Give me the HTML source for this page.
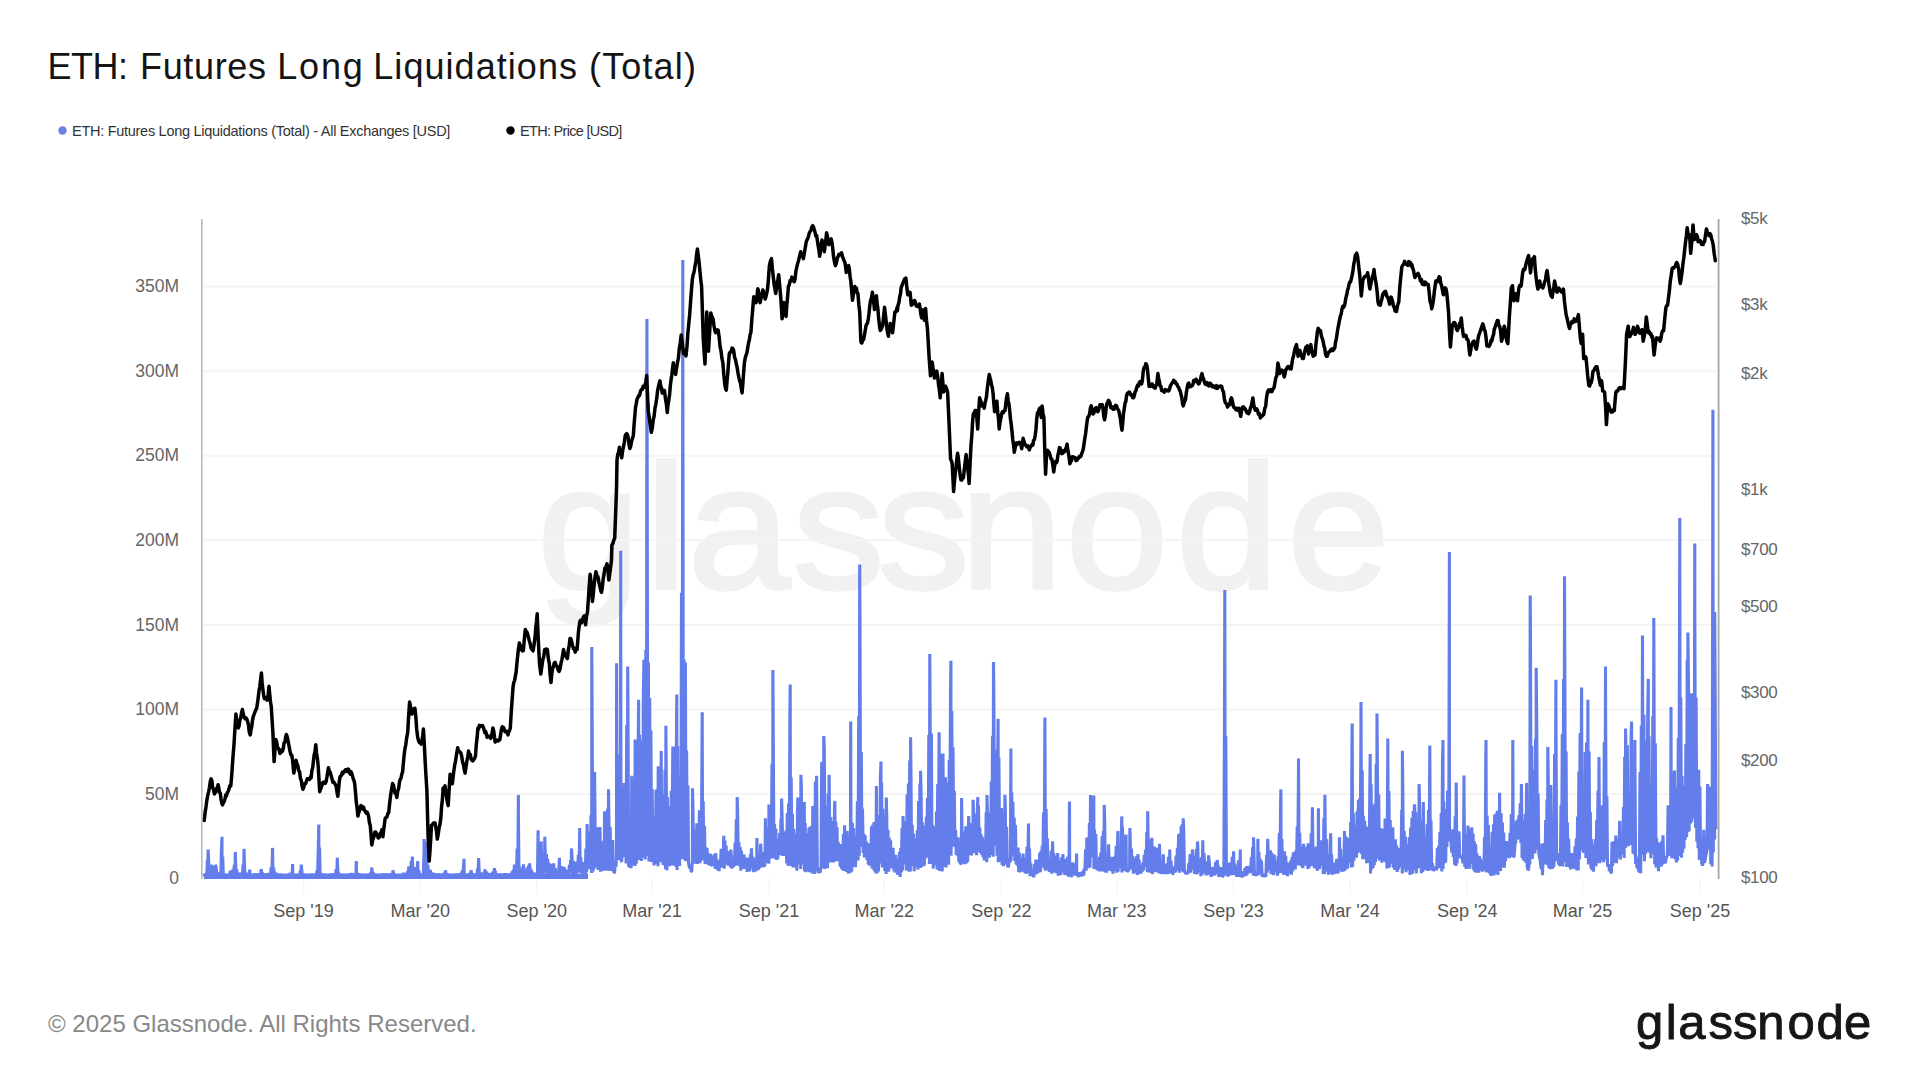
<!DOCTYPE html>
<html><head><meta charset="utf-8"><title>ETH: Futures Long Liquidations (Total)</title>
<style>
html,body{margin:0;padding:0;background:#fff;}
body{width:1920px;height:1080px;position:relative;overflow:hidden;font-family:"Liberation Sans",sans-serif;}
.t{position:absolute;white-space:nowrap;line-height:1;}
.lg{font-size:14.5px;color:#333;top:124px;}
.yl{font-size:17.5px;color:#666;text-align:right;width:80px;left:99px;}
.yr{font-size:17px;color:#666;left:1741px;letter-spacing:-0.35px;}
.xl{font-size:18px;color:#555;top:902px;width:120px;text-align:center;}
.foot{left:48px;top:1012px;font-size:24px;color:#888;}
</style></head><body>
<svg width="1920" height="1080" viewBox="0 0 1920 1080" style="position:absolute;left:0;top:0">
<text transform="scale(1.04,1)" x="516.9 620.6 661.2 762.0 843.7 923.3 1024.8 1130.8 1237.7" y="588" font-family="'Liberation Sans',sans-serif" font-size="177" fill="#f1f1f1" stroke="#f1f1f1" stroke-width="3.5">glassnode</text>
<line x1="203" x2="1716" y1="794.0" y2="794.0" stroke="#f4f4f4" stroke-width="2"/>
<line x1="203" x2="1716" y1="709.4" y2="709.4" stroke="#f4f4f4" stroke-width="2"/>
<line x1="203" x2="1716" y1="624.9" y2="624.9" stroke="#f4f4f4" stroke-width="2"/>
<line x1="203" x2="1716" y1="540.3" y2="540.3" stroke="#f4f4f4" stroke-width="2"/>
<line x1="203" x2="1716" y1="455.8" y2="455.8" stroke="#f4f4f4" stroke-width="2"/>
<line x1="203" x2="1716" y1="371.2" y2="371.2" stroke="#f4f4f4" stroke-width="2"/>
<line x1="203" x2="1716" y1="286.6" y2="286.6" stroke="#f4f4f4" stroke-width="2"/>
<line x1="303.5" x2="303.5" y1="879" y2="894" stroke="#f6f6f6" stroke-width="1.5"/>
<line x1="420.3" x2="420.3" y1="879" y2="894" stroke="#f6f6f6" stroke-width="1.5"/>
<line x1="536.8" x2="536.8" y1="879" y2="894" stroke="#f6f6f6" stroke-width="1.5"/>
<line x1="652" x2="652" y1="879" y2="894" stroke="#f6f6f6" stroke-width="1.5"/>
<line x1="769" x2="769" y1="879" y2="894" stroke="#f6f6f6" stroke-width="1.5"/>
<line x1="884.2" x2="884.2" y1="879" y2="894" stroke="#f6f6f6" stroke-width="1.5"/>
<line x1="1001.4" x2="1001.4" y1="879" y2="894" stroke="#f6f6f6" stroke-width="1.5"/>
<line x1="1116.8" x2="1116.8" y1="879" y2="894" stroke="#f6f6f6" stroke-width="1.5"/>
<line x1="1233.5" x2="1233.5" y1="879" y2="894" stroke="#f6f6f6" stroke-width="1.5"/>
<line x1="1350" x2="1350" y1="879" y2="894" stroke="#f6f6f6" stroke-width="1.5"/>
<line x1="1467.2" x2="1467.2" y1="879" y2="894" stroke="#f6f6f6" stroke-width="1.5"/>
<line x1="1582.5" x2="1582.5" y1="879" y2="894" stroke="#f6f6f6" stroke-width="1.5"/>
<line x1="1700" x2="1700" y1="879" y2="894" stroke="#f6f6f6" stroke-width="1.5"/>
<line x1="204" x2="588" y1="876.3" y2="876.3" stroke="#637dea" stroke-width="5.4"/>
<polyline points="204.2,876.5 204.8,873.8 205.5,877.1 206.1,873.5 206.7,876.8 207.4,859.6 208.0,870.6 208.1,849.6 208.7,861.9 209.3,876.1 209.9,871.7 210.6,875.9 211.2,869.0 211.6,864.6 211.8,876.1 212.5,868.0 213.1,876.4 213.8,866.1 214.4,874.2 215.0,866.0 215.7,877.0 215.7,864.6 216.3,869.0 216.9,876.1 217.6,874.0 218.2,876.6 218.9,873.0 219.5,876.1 220.1,872.3 220.8,876.4 221.4,851.6 222.0,836.8 222.0,872.5 222.7,856.9 223.3,875.0 224.0,874.1 224.6,876.2 225.2,874.4 225.9,876.5 226.5,876.7 227.1,876.9 227.8,876.3 228.4,876.5 229.1,876.7 229.7,875.8 230.3,870.8 231.0,876.7 231.6,871.3 232.2,875.9 232.9,869.5 233.5,876.1 234.2,864.9 234.8,874.7 235.4,851.9 235.4,857.8 236.1,873.2 236.7,869.0 237.3,876.5 238.0,872.5 238.6,877.0 239.3,872.9 239.9,876.6 240.5,873.9 241.2,876.9 241.8,872.5 242.4,875.7 243.1,864.5 243.7,874.6 244.0,848.9 244.3,859.0 245.0,876.7 245.6,872.5 246.3,877.1 246.9,873.1 247.5,876.7 248.2,873.1 248.8,877.0 249.4,871.6 249.8,869.7 250.1,876.8 250.7,876.3 251.4,877.0 252.0,876.5 252.6,876.9 253.3,877.0 253.9,876.5 254.5,873.5 255.2,876.3 255.8,874.3 256.5,876.8 257.1,873.5 257.7,876.6 258.4,873.5 259.0,876.6 259.6,874.4 260.3,876.8 260.9,871.4 261.4,869.2 261.6,876.1 262.2,872.2 262.8,876.2 263.5,873.7 264.1,876.5 264.7,873.8 265.4,876.7 266.0,873.6 266.7,876.6 267.3,874.4 267.9,877.0 268.6,873.1 269.2,876.9 269.8,873.5 270.5,876.8 271.1,867.3 271.8,876.3 272.4,855.3 272.5,847.9 273.0,872.5 273.7,867.5 274.3,876.1 274.9,872.0 275.6,877.0 276.2,873.0 276.9,876.6 277.5,874.3 278.1,876.5 278.8,874.6 279.4,877.0 280.0,873.7 280.7,877.0 281.3,874.2 282.0,876.9 282.6,874.4 283.2,877.0 283.9,874.3 284.5,876.6 285.1,874.6 285.8,876.8 286.4,876.8 287.0,876.8 287.7,876.7 288.3,876.8 289.0,876.6 289.6,876.9 290.2,872.8 290.9,875.5 291.5,876.2 292.1,876.8 292.6,864.1 292.8,875.3 293.4,876.3 294.1,876.9 294.7,876.8 295.3,874.3 296.0,876.6 296.6,874.3 297.2,877.1 297.9,876.7 298.5,876.6 299.2,876.4 299.8,876.5 300.4,870.1 301.1,874.1 301.2,864.6 301.7,868.6 302.3,876.2 303.0,873.9 303.6,876.3 304.3,873.8 304.9,876.4 305.5,874.6 306.2,876.4 306.8,874.6 307.4,876.0 308.1,874.6 308.7,876.8 309.4,874.6 310.0,877.0 310.6,874.1 311.3,876.9 311.9,873.8 312.5,877.0 313.2,874.6 313.8,876.6 314.5,873.8 315.1,876.6 315.7,873.9 316.4,876.0 317.0,870.4 317.6,875.3 318.3,847.0 318.8,824.5 318.9,862.5 319.6,847.6 320.2,876.8 320.8,873.0 321.5,876.8 322.1,873.6 322.7,877.0 323.4,874.1 324.0,876.8 324.6,874.3 325.3,876.2 325.9,876.9 326.6,876.9 327.2,876.8 327.8,876.9 328.5,877.1 329.1,876.5 329.7,874.3 330.4,876.9 331.0,873.5 331.7,876.3 332.3,873.8 332.9,876.6 333.6,874.3 334.2,877.0 334.8,873.2 335.5,876.7 336.1,869.0 336.8,876.5 337.3,857.7 337.4,861.7 338.0,873.4 338.7,872.6 339.3,877.0 339.9,873.9 340.6,876.7 341.2,874.2 341.9,876.8 342.5,874.0 343.1,876.9 343.8,874.2 344.4,876.3 345.0,876.9 345.7,876.7 346.3,876.8 347.0,876.5 347.6,874.1 348.2,876.9 348.9,874.5 349.5,876.3 350.1,873.7 350.8,876.5 351.4,873.0 352.1,876.6 352.7,873.5 353.3,876.8 354.0,876.9 354.6,876.3 355.2,875.9 355.9,876.6 356.3,861.1 356.5,874.6 357.2,876.7 357.8,873.0 358.4,876.5 359.1,874.6 359.7,876.5 360.3,873.7 361.0,876.2 361.6,874.4 362.3,876.8 362.9,874.4 363.5,876.4 364.2,874.2 364.8,876.9 365.4,874.2 366.1,876.4 366.7,874.2 367.3,876.3 368.0,874.2 368.6,876.9 369.3,874.2 369.9,876.2 370.5,872.4 371.2,877.0 371.8,867.4 371.8,867.6 372.4,875.0 373.1,871.9 373.7,877.1 374.4,874.3 375.0,876.8 375.6,873.9 376.3,876.8 376.9,876.5 377.5,876.6 378.2,876.9 378.8,876.6 379.5,876.9 380.1,876.8 380.7,874.4 381.4,876.3 382.0,874.2 382.6,876.4 383.3,873.7 383.9,877.1 384.6,873.4 385.2,876.9 385.8,874.0 386.5,876.9 387.1,873.8 387.7,876.5 388.4,874.3 389.0,876.4 389.7,874.4 390.3,876.5 390.9,873.4 391.6,876.2 392.2,873.2 392.8,875.7 392.9,870.4 393.5,872.8 394.1,875.8 394.8,874.2 395.4,876.9 396.0,874.5 396.7,876.9 397.3,874.4 397.9,876.4 398.6,876.8 399.2,876.8 399.9,877.1 400.5,876.8 401.1,876.7 401.8,876.6 402.4,874.0 403.0,876.7 403.7,872.7 404.3,876.6 404.9,876.8 405.6,876.8 406.2,877.0 406.9,876.4 407.5,871.2 408.1,874.8 408.8,866.4 409.4,876.0 410.0,867.9 410.7,874.2 411.3,861.0 412.0,875.3 412.3,856.5 412.6,864.1 413.2,873.8 413.9,867.5 414.5,876.0 415.1,867.1 415.8,876.6 416.4,868.1 417.1,874.7 417.7,861.1 417.7,864.6 418.3,874.7 419.0,870.7 419.6,876.4 420.2,876.6 420.9,876.6 421.5,876.4 422.2,876.4 422.8,875.5 423.4,873.1 424.1,850.8 424.1,839.1 424.7,871.3 425.3,842.1 426.0,876.9 426.6,855.1 427.3,872.7 427.9,865.1 428.5,876.5 429.2,871.0 429.8,875.4 430.4,869.9 431.1,876.0 431.7,872.4 432.4,876.7 433.0,872.6 433.6,877.0 434.3,874.1 434.9,876.3 435.5,873.6 436.2,876.8 436.8,874.2 437.5,876.4 438.1,874.0 438.7,876.3 439.4,873.7 440.0,876.8 440.6,874.2 441.3,876.4 441.9,873.9 442.6,876.6 443.2,874.5 443.8,876.9 444.5,872.5 445.1,876.9 445.4,870.4 445.7,871.3 446.4,876.0 447.0,873.5 447.6,876.6 448.3,876.8 448.9,877.0 449.6,876.6 450.2,876.7 450.8,874.4 451.5,876.5 452.1,874.3 452.7,876.3 453.4,874.7 454.0,876.7 454.7,874.4 455.3,877.1 455.9,873.8 456.6,876.9 457.2,873.7 457.8,876.5 458.5,873.6 459.1,876.8 459.8,873.7 460.4,876.8 461.0,872.8 461.7,875.6 462.3,870.1 462.9,875.0 463.6,865.5 464.0,858.8 464.2,873.4 464.9,875.8 465.5,876.0 466.1,877.1 466.8,876.5 467.4,874.1 468.0,876.9 468.7,873.7 469.3,876.3 470.0,873.1 470.6,875.4 470.9,870.4 471.2,871.3 471.9,876.9 472.5,873.6 473.1,876.8 473.8,873.7 474.4,876.5 475.1,873.7 475.7,876.6 476.3,874.6 477.0,875.9 477.6,868.1 478.2,874.0 478.6,858.1 478.9,865.8 479.5,874.4 480.2,872.3 480.8,876.1 481.4,873.7 482.1,876.6 482.7,874.4 483.3,876.0 484.0,872.3 484.6,876.5 484.8,869.2 485.2,871.8 485.9,875.5 486.5,871.6 487.2,876.3 487.8,873.0 488.4,876.6 489.1,874.2 489.7,876.4 490.3,873.3 491.0,876.3 491.6,872.9 492.3,875.9 492.9,871.6 493.5,876.7 494.2,870.8 494.5,868.1 494.8,876.8 495.4,871.0 496.1,876.6 496.7,876.8 497.4,877.0 498.0,876.9 498.6,876.6 499.3,873.7 499.9,876.4 500.5,873.8 501.2,876.5 501.8,873.9 502.5,876.2 503.1,874.3 503.7,876.5 504.4,873.5 505.0,876.2 505.6,873.4 506.3,876.9 506.9,874.0 507.6,876.5 508.2,873.9 508.8,876.7 509.5,873.8 510.1,877.0 510.7,874.1 511.4,877.1 512.0,871.4 512.7,876.7 513.3,869.8 513.9,875.8 514.4,864.6 514.6,865.7 515.2,875.8 515.8,866.7 516.5,872.8 517.1,848.6 517.8,870.4 518.4,795.1 518.4,815.6 519.0,873.7 519.7,866.6 520.3,874.0 520.9,874.8 521.6,876.7 522.2,876.5 522.8,875.9 523.5,864.4 524.1,876.1 524.8,871.2 525.4,875.5 526.0,870.1 526.7,876.6 527.3,867.4 527.9,876.8 528.6,865.9 529.2,876.2 529.3,863.4 529.9,866.2 530.5,875.8 531.1,869.2 531.8,875.7 532.4,871.6 533.0,876.7 533.7,872.9 534.3,875.7 535.0,872.8 535.6,876.5 536.2,876.8 536.9,875.6 537.5,872.8 538.1,830.3 538.1,868.5 538.8,846.7 539.4,871.0 540.1,852.7 540.7,874.8 541.3,841.4 541.3,847.7 542.0,868.9 542.6,860.9 543.2,874.7 543.9,859.4 544.5,872.7 544.8,836.8 545.2,852.9 545.8,871.6 546.4,854.1 547.1,873.8 547.7,858.7 548.3,874.4 549.0,863.2 549.6,872.5 550.3,863.8 550.9,876.4 551.5,869.0 552.2,874.4 552.8,868.7 553.4,874.8 553.6,863.4 554.1,868.5 554.7,874.3 555.4,868.1 556.0,876.4 556.6,877.1 557.3,875.6 557.9,876.7 558.5,875.8 559.2,862.0 559.4,857.7 559.8,875.5 560.5,866.0 561.1,875.2 561.7,866.2 562.4,877.0 563.0,867.4 563.6,876.3 564.3,867.2 564.9,874.7 565.5,870.0 566.2,874.8 566.8,869.6 567.5,876.5 568.1,870.9 568.7,875.4 569.4,864.9 570.0,872.5 570.6,860.0 571.3,871.7 571.4,848.4 571.9,854.2 572.6,876.2 573.2,860.5 573.8,873.1 574.5,861.8 575.1,874.0 575.7,863.3 576.4,873.8 577.0,861.6 577.7,871.4 578.3,854.7 578.9,872.8 579.6,839.5 579.7,828.0 580.2,870.4 580.8,857.2 581.5,873.0 582.1,864.1 582.8,876.1 583.4,862.0 584.0,876.8 584.7,865.8 585.3,875.6 585.9,848.5 586.6,872.3 587.1,824.1 587.2,831.3 587.9,868.2 588.5,837.4 589.1,869.1 589.8,831.2 590.4,868.7 591.0,815.3 591.7,872.9 591.8,646.9 592.3,754.0 593.0,871.6 593.6,778.1 594.2,869.0 594.6,772.0 594.9,803.6 595.5,867.2 596.1,827.3 596.8,861.4 597.4,827.4 598.1,869.9 598.7,831.8 599.3,865.7 600.0,827.1 600.6,871.8 601.2,840.8 601.9,866.2 602.5,870.6 603.1,868.5 603.8,869.4 604.4,870.0 604.5,811.3 605.1,827.9 605.7,868.9 606.3,842.5 607.0,870.8 607.6,808.7 608.2,870.7 608.5,789.3 608.9,818.4 609.5,869.8 610.2,826.9 610.8,871.0 611.4,844.0 612.1,863.8 612.7,840.1 613.3,869.7 614.0,872.7 614.6,872.2 615.3,860.8 615.9,867.0 616.5,856.3 616.6,663.2 617.2,854.6 617.8,754.2 618.4,859.6 619.1,858.3 619.7,859.0 620.4,852.4 620.7,550.8 621.0,859.7 621.6,862.0 622.3,852.7 622.9,786.3 623.5,857.1 624.2,783.1 624.8,855.9 625.5,783.0 626.1,863.6 626.7,725.3 627.4,845.7 627.7,666.6 628.0,712.0 628.6,866.1 629.3,866.0 629.9,856.8 630.6,866.6 631.2,867.9 631.8,775.7 632.5,860.8 633.1,788.1 633.7,865.2 634.4,780.8 635.0,865.9 635.1,739.6 635.7,779.3 636.3,863.7 636.9,773.6 637.6,860.3 638.2,746.8 638.6,699.7 638.8,859.7 639.5,734.8 640.1,844.8 640.8,770.4 641.4,861.1 642.0,740.5 642.7,843.6 643.3,700.8 643.9,659.7 643.9,857.4 644.6,711.9 645.2,859.6 645.8,649.7 646.5,855.9 646.9,319.0 647.1,425.2 647.8,842.0 648.4,662.4 649.0,861.5 649.7,698.1 650.3,860.8 650.9,730.4 651.6,862.1 652.2,789.1 652.9,862.2 653.5,815.8 654.1,865.5 654.8,827.4 655.4,863.9 656.0,789.7 656.7,847.5 657.3,788.7 658.0,866.3 658.2,766.2 658.6,778.2 659.2,859.9 659.9,779.5 660.5,862.2 661.1,773.5 661.2,751.1 661.8,861.2 662.4,800.3 663.1,865.1 663.7,794.4 664.3,865.5 665.0,769.6 665.6,869.2 665.9,725.7 666.2,767.8 666.9,870.2 667.5,797.1 668.2,863.3 668.8,819.8 669.4,866.3 670.1,806.6 670.7,859.4 671.3,790.8 672.0,865.4 672.6,776.4 672.8,746.5 673.3,865.6 673.9,770.7 674.5,860.5 675.2,746.6 675.8,866.8 676.4,741.1 676.8,694.4 677.1,869.9 677.7,745.9 678.4,862.6 679.0,775.5 679.6,866.0 680.3,779.8 680.9,850.8 681.5,592.7 682.2,859.0 682.8,260.0 682.8,330.8 683.4,843.8 684.1,659.7 684.7,860.2 685.4,662.4 686.0,861.3 686.6,750.4 687.3,852.2 687.9,785.5 688.5,862.7 689.2,866.8 689.8,868.0 690.5,865.1 691.1,871.6 691.7,871.4 692.4,859.5 692.5,788.2 693.0,812.1 693.6,857.0 694.3,837.2 694.9,863.7 695.6,830.3 696.2,858.1 696.8,823.2 697.5,864.0 698.1,824.3 698.7,860.6 699.4,810.2 700.0,863.2 700.7,810.5 701.3,858.2 701.9,765.5 702.2,712.2 702.6,860.5 703.2,801.3 703.8,857.2 704.5,825.8 705.1,864.1 705.8,847.4 706.4,861.9 707.0,848.0 707.7,863.3 708.3,854.4 708.9,865.3 709.6,853.6 710.2,865.2 710.9,854.2 711.5,866.5 712.1,857.2 712.8,866.2 713.4,855.8 714.0,864.3 714.7,854.4 715.3,868.9 715.7,853.0 716.0,857.3 716.6,867.3 717.2,860.1 717.9,870.4 718.5,861.6 719.1,871.1 719.8,859.6 720.4,867.2 721.1,848.8 721.7,867.4 722.3,849.8 723.0,867.8 723.6,840.6 723.8,835.7 724.2,868.6 724.9,840.4 725.5,864.4 726.1,845.5 726.8,862.4 727.4,851.2 728.1,865.6 728.7,854.2 729.3,864.4 730.0,856.4 730.6,867.4 730.7,849.6 731.2,853.3 731.9,868.7 732.5,858.8 733.2,867.1 733.8,861.5 734.4,866.1 735.1,842.5 735.7,865.7 736.3,819.2 737.0,857.9 737.2,797.0 737.6,810.0 738.3,865.1 738.9,842.0 739.5,866.3 740.2,847.0 740.8,870.7 741.4,850.7 742.1,865.1 742.7,854.2 743.4,869.0 744.0,854.6 744.6,869.0 745.3,859.3 745.9,868.0 746.5,857.7 747.2,872.0 747.8,858.7 748.5,869.4 749.1,857.7 749.7,871.5 750.4,854.2 751.0,867.5 751.5,848.4 751.6,852.7 752.3,868.7 752.9,856.9 753.6,872.2 754.2,858.3 754.8,869.8 755.5,871.0 756.1,869.1 756.7,870.3 756.9,838.0 757.4,869.9 758.0,868.1 758.7,869.4 759.3,852.7 759.9,868.0 760.6,845.2 760.8,843.8 761.2,863.6 761.8,853.3 762.5,867.2 763.1,851.9 763.7,865.6 764.4,866.5 765.0,863.9 765.4,818.3 765.7,861.8 766.3,862.0 766.9,831.9 767.6,853.0 768.2,827.2 768.8,863.7 768.9,804.4 769.5,822.4 770.1,859.0 770.8,821.1 771.4,857.5 772.0,763.7 772.7,858.3 772.9,670.1 773.3,741.0 773.9,854.9 774.6,824.1 775.2,858.7 775.9,828.9 776.5,860.0 777.1,838.9 777.8,859.2 778.4,838.8 779.0,854.1 779.7,833.0 780.3,855.2 781.0,818.6 781.6,852.3 781.6,798.6 782.2,820.8 782.9,856.0 783.5,831.7 784.1,854.2 784.8,832.3 785.4,855.6 786.1,830.2 786.7,863.2 787.3,813.1 788.0,865.8 788.6,803.5 789.2,864.0 789.9,717.7 790.2,684.5 790.5,866.0 791.2,777.4 791.8,856.3 792.4,813.9 793.1,867.6 793.7,829.1 794.3,865.7 795.0,849.1 795.6,867.4 796.3,833.9 796.9,870.8 797.5,813.9 797.9,797.5 798.2,854.1 798.8,821.0 799.4,864.4 800.1,811.2 800.7,868.9 800.9,774.8 801.4,787.7 802.0,864.4 802.6,825.2 803.3,858.3 803.9,808.5 804.3,802.1 804.5,871.2 805.2,823.0 805.8,872.2 806.4,839.2 807.1,869.5 807.7,833.1 808.4,871.2 809.0,827.7 809.6,872.3 810.3,826.3 810.9,870.7 811.5,833.5 812.2,873.4 812.8,805.9 813.5,860.5 814.1,812.0 814.7,874.1 815.4,781.5 816.0,856.4 816.6,775.8 817.3,866.1 817.9,870.8 818.6,873.1 819.2,869.7 819.8,872.6 820.5,871.0 821.1,866.2 821.7,761.8 822.4,868.3 823.0,772.9 823.7,867.4 823.8,736.1 824.3,749.2 824.9,868.9 825.6,806.3 826.2,864.6 826.8,806.0 827.5,868.3 828.1,793.6 828.8,858.7 829.1,774.8 829.4,803.3 830.0,862.6 830.7,817.0 831.3,858.2 831.9,823.1 832.6,862.3 833.2,821.1 833.9,862.5 834.5,806.1 834.9,800.9 835.1,861.0 835.8,821.9 836.4,853.1 837.0,827.2 837.7,861.1 838.3,842.3 839.0,860.8 839.6,844.5 840.2,866.6 840.9,844.1 841.5,868.8 842.1,850.1 842.8,870.1 843.4,834.1 844.0,870.9 844.6,825.2 844.7,839.3 845.3,870.6 846.0,843.1 846.6,871.9 847.2,830.9 847.9,870.6 848.5,873.3 849.1,861.6 849.8,871.8 850.4,871.5 850.7,721.5 851.1,871.5 851.7,870.4 852.3,822.5 853.0,867.1 853.6,828.0 854.2,862.5 854.9,836.4 855.5,867.3 856.2,836.2 856.8,857.9 857.4,801.2 858.1,860.6 858.7,716.3 859.3,855.8 859.7,564.5 860.0,624.3 860.6,847.1 861.3,751.9 861.9,846.2 862.5,808.4 863.2,853.1 863.8,833.8 864.4,857.5 865.1,835.4 865.7,856.4 866.4,841.6 867.0,860.0 867.6,848.1 868.3,864.4 868.9,843.2 869.5,865.7 870.2,844.7 870.8,864.7 871.5,826.4 872.1,868.6 872.7,824.7 873.4,869.5 874.0,822.0 874.6,871.6 875.3,824.4 875.9,873.6 876.4,785.9 876.6,872.3 877.2,872.1 877.8,870.7 878.5,871.3 879.1,815.1 879.7,863.6 880.4,776.0 881.0,761.6 881.0,849.0 881.6,782.5 882.3,867.6 882.9,808.7 883.6,857.2 884.2,818.1 884.8,870.9 885.5,816.2 886.1,874.1 886.3,797.5 886.7,814.7 887.4,869.0 888.0,829.8 888.7,871.7 889.3,837.7 889.9,868.4 890.6,840.3 891.2,868.2 891.8,848.8 892.5,866.8 893.1,847.8 893.8,870.7 894.4,860.1 895.0,872.4 895.7,854.8 896.3,872.7 896.9,860.0 897.6,874.8 898.2,858.1 898.9,875.0 899.5,851.8 900.1,876.9 900.8,848.1 901.4,872.3 902.0,828.2 902.7,870.5 903.0,816.0 903.3,824.5 904.0,864.4 904.6,821.1 905.2,862.2 905.9,827.4 906.5,870.5 907.1,794.6 907.8,859.8 908.4,783.6 909.1,871.8 909.7,760.5 910.3,871.5 910.6,737.3 911.0,775.3 911.6,865.9 912.2,824.7 912.9,866.0 913.5,833.9 914.2,871.1 914.8,838.3 915.4,860.7 916.1,839.8 916.7,867.0 917.3,830.3 918.0,869.6 918.6,801.0 919.3,865.4 919.9,783.6 920.5,868.1 920.6,770.8 921.2,799.6 921.8,866.8 922.4,822.4 923.1,866.6 923.7,827.3 924.3,865.5 925.0,825.8 925.6,858.3 926.3,816.8 926.9,849.1 927.5,798.1 928.2,857.5 928.8,734.9 929.4,863.9 929.8,653.9 930.1,711.4 930.7,863.9 931.4,733.5 932.0,858.5 932.6,825.2 933.3,868.6 933.9,826.2 934.5,855.6 935.2,829.2 935.8,865.2 936.5,811.4 937.1,869.4 937.7,783.9 938.4,869.7 939.0,753.4 939.1,732.2 939.6,871.1 940.3,753.4 940.9,856.3 941.6,765.2 942.2,871.5 942.8,777.8 943.0,753.5 943.5,855.4 944.1,792.8 944.7,866.7 945.4,777.2 946.0,867.6 946.7,782.2 947.3,864.5 947.9,801.2 948.6,864.8 949.2,760.0 949.8,842.1 950.5,693.7 950.9,660.8 951.1,855.8 951.8,711.0 952.4,844.2 953.0,747.3 953.7,846.8 954.3,791.0 954.9,841.2 955.6,830.1 956.2,855.0 956.9,838.4 957.5,855.8 958.1,837.4 958.8,861.8 959.4,860.6 960.0,862.9 960.7,863.3 961.3,864.6 961.6,797.9 961.9,824.4 962.6,863.7 963.2,831.6 963.9,857.9 964.5,834.9 965.1,864.1 965.8,826.4 966.4,863.1 967.0,826.3 967.7,862.0 968.3,831.3 968.7,816.0 969.0,853.9 969.6,822.8 970.2,855.1 970.9,838.6 971.5,855.5 972.1,823.9 972.8,848.3 973.1,799.8 973.4,807.0 974.1,853.3 974.7,819.1 975.3,850.0 976.0,813.8 976.6,855.3 977.2,814.9 977.8,797.0 977.9,848.6 978.5,805.7 979.2,851.8 979.8,827.5 980.4,852.9 981.1,834.2 981.7,854.7 982.3,836.8 983.0,857.1 983.6,839.4 984.3,860.5 984.9,840.6 985.5,859.3 986.2,812.1 986.8,862.2 987.0,795.1 987.4,812.7 988.1,853.0 988.7,831.9 989.4,857.7 990.0,813.1 990.6,854.6 991.3,781.6 991.9,855.1 992.5,735.7 993.2,856.8 993.5,662.0 993.8,687.8 994.5,842.4 995.1,750.1 995.7,845.7 996.4,802.9 997.0,855.8 997.6,766.5 998.1,718.7 998.3,862.3 998.9,757.5 999.6,849.4 1000.2,820.2 1000.8,861.8 1001.5,808.1 1002.1,865.1 1002.7,820.1 1003.4,866.3 1004.0,812.9 1004.6,848.9 1004.9,794.7 1005.3,806.3 1005.9,864.6 1006.6,827.1 1007.2,861.6 1007.8,867.2 1008.5,865.9 1009.1,858.5 1009.7,862.6 1010.4,859.7 1010.9,748.4 1011.0,861.1 1011.7,792.1 1012.3,856.2 1012.9,801.7 1013.6,855.7 1014.2,817.4 1014.8,860.9 1015.5,825.1 1016.1,864.6 1016.8,851.0 1017.4,865.7 1018.0,847.6 1018.7,871.9 1019.3,852.6 1019.9,872.5 1020.6,857.6 1021.2,871.7 1021.9,858.4 1022.5,870.2 1023.1,853.6 1023.8,871.6 1024.4,861.6 1025.0,872.8 1025.7,858.2 1026.3,873.9 1027.0,846.8 1027.6,872.8 1028.2,840.6 1028.5,823.6 1028.9,868.7 1029.5,848.5 1030.1,876.2 1030.8,863.3 1031.4,874.7 1032.1,874.6 1032.7,875.4 1033.3,875.4 1034.0,877.2 1034.6,864.1 1035.2,872.7 1035.9,859.6 1036.5,874.2 1037.2,860.0 1037.8,873.4 1038.4,859.7 1039.1,872.4 1039.7,852.8 1040.3,872.1 1041.0,850.9 1041.6,866.7 1042.2,845.6 1042.9,864.3 1043.5,812.5 1044.2,868.4 1044.8,742.4 1044.9,717.6 1045.4,870.8 1046.1,809.0 1046.7,854.5 1047.3,838.2 1048.0,869.5 1048.6,867.9 1049.3,871.8 1049.9,870.2 1050.5,871.7 1051.2,850.7 1051.8,873.6 1052.4,846.6 1052.6,841.4 1053.1,870.7 1053.7,852.9 1054.4,872.5 1055.0,860.6 1055.6,872.7 1056.3,855.5 1056.9,873.3 1057.5,859.2 1057.7,853.0 1058.2,875.7 1058.8,860.8 1059.5,874.6 1060.1,864.3 1060.7,875.2 1061.4,857.2 1062.0,872.3 1062.6,861.8 1063.0,854.2 1063.3,872.0 1063.9,858.6 1064.6,874.7 1065.2,862.6 1065.8,875.1 1066.5,859.2 1067.1,873.2 1067.7,856.6 1068.4,876.7 1069.0,867.3 1069.5,801.4 1069.7,875.4 1070.3,873.4 1070.9,874.4 1071.6,877.0 1072.2,874.5 1072.8,862.4 1073.5,875.0 1074.1,868.0 1074.8,873.8 1075.4,863.9 1076.0,876.0 1076.6,853.5 1076.7,873.3 1077.3,875.7 1077.9,875.1 1078.6,876.8 1079.2,872.1 1079.9,876.2 1080.5,872.5 1081.1,876.6 1081.8,872.3 1082.4,876.2 1083.0,870.7 1083.7,875.7 1084.3,868.4 1084.9,870.2 1085.6,849.2 1086.2,870.6 1086.9,837.7 1087.5,867.2 1088.1,837.4 1088.8,868.3 1089.4,822.9 1090.0,867.2 1090.5,795.1 1090.7,820.0 1091.3,851.2 1092.0,820.3 1092.6,857.3 1093.2,811.2 1093.8,795.6 1093.9,868.9 1094.5,829.9 1095.1,864.4 1095.8,834.0 1096.4,866.4 1097.1,869.9 1097.7,868.5 1098.3,868.9 1099.0,870.7 1099.6,856.8 1100.2,871.5 1100.9,852.6 1101.5,870.5 1102.2,836.0 1102.8,871.5 1103.4,830.7 1104.1,868.5 1104.2,804.9 1104.7,822.1 1105.3,872.5 1106.0,854.7 1106.6,872.6 1107.3,853.7 1107.9,869.3 1108.5,846.9 1108.6,844.2 1109.2,870.6 1109.8,857.0 1110.4,870.2 1111.1,856.8 1111.7,871.2 1112.4,861.0 1113.0,873.6 1113.6,857.1 1114.3,870.9 1114.9,856.2 1115.5,867.9 1116.2,845.9 1116.8,872.6 1117.5,844.5 1117.9,831.0 1118.1,871.7 1118.7,846.4 1119.4,867.8 1120.0,844.3 1120.6,868.3 1121.3,837.6 1121.8,816.4 1121.9,872.4 1122.5,826.6 1123.2,870.9 1123.8,843.9 1124.5,865.7 1125.1,836.1 1125.7,864.7 1126.0,834.5 1126.4,871.4 1127.0,870.8 1127.6,871.4 1128.3,870.7 1128.9,868.9 1129.6,868.5 1129.9,828.0 1130.2,839.7 1130.8,869.5 1131.5,848.5 1132.1,869.3 1132.7,856.0 1133.4,873.7 1134.0,858.6 1134.7,873.0 1135.3,858.2 1135.9,870.6 1136.6,856.2 1137.2,874.9 1137.8,856.5 1138.0,854.2 1138.5,874.3 1139.1,859.6 1139.8,871.8 1140.4,866.2 1141.0,873.6 1141.7,866.3 1142.3,871.6 1142.9,862.5 1143.6,870.5 1144.2,854.8 1144.9,866.7 1145.5,849.8 1146.1,865.7 1146.8,832.0 1147.4,872.2 1147.7,811.3 1148.0,832.6 1148.7,870.3 1149.3,839.2 1150.0,872.6 1150.6,845.9 1151.2,868.4 1151.9,837.7 1152.5,874.3 1153.1,851.5 1153.8,871.7 1154.4,846.6 1155.1,870.3 1155.7,856.9 1156.3,872.1 1157.0,847.9 1157.6,868.8 1158.2,850.0 1158.9,873.2 1159.5,871.8 1159.5,843.8 1160.1,871.6 1160.8,872.5 1161.4,872.9 1162.1,871.6 1162.7,871.0 1163.3,854.2 1164.0,874.1 1164.6,863.6 1165.2,872.4 1165.9,863.6 1166.5,874.1 1167.2,864.9 1167.8,874.2 1168.4,856.9 1169.1,871.7 1169.7,857.9 1169.7,849.6 1170.3,873.5 1171.0,860.8 1171.6,872.8 1172.3,866.3 1172.9,875.0 1173.5,867.3 1174.2,872.9 1174.8,866.6 1175.4,872.5 1176.1,855.6 1176.7,869.6 1177.4,847.9 1178.0,870.7 1178.6,834.2 1179.3,872.7 1179.9,833.2 1180.5,870.7 1181.2,825.8 1181.8,871.0 1182.5,824.1 1183.1,872.3 1183.2,818.3 1183.7,829.0 1184.4,869.9 1185.0,872.2 1185.6,873.6 1186.3,873.3 1186.9,872.3 1187.6,873.9 1188.2,872.5 1188.8,863.0 1189.5,870.1 1190.1,854.1 1190.7,872.6 1191.4,856.1 1192.0,868.0 1192.4,849.6 1192.7,851.3 1193.3,869.8 1193.9,856.7 1194.6,873.9 1195.2,856.0 1195.8,872.8 1196.5,849.0 1197.1,874.4 1197.5,841.4 1197.8,846.9 1198.4,869.8 1199.0,858.6 1199.7,872.2 1200.3,861.8 1200.9,876.1 1201.6,857.3 1202.2,874.6 1202.8,840.3 1202.8,842.8 1203.5,872.0 1204.1,853.3 1204.8,873.0 1205.4,863.9 1206.0,875.3 1206.7,861.3 1207.3,875.3 1207.9,862.9 1208.6,874.2 1208.6,855.3 1209.2,861.6 1209.9,873.3 1210.5,866.9 1211.1,876.9 1211.8,868.5 1212.4,874.7 1213.0,867.4 1213.7,875.6 1214.3,866.8 1215.0,875.3 1215.6,861.9 1216.2,873.9 1216.9,865.0 1217.4,860.0 1217.5,872.8 1218.1,864.9 1218.8,877.0 1219.4,868.8 1220.1,876.9 1220.7,867.1 1221.3,874.5 1222.0,874.1 1222.6,876.4 1223.2,876.4 1223.9,866.0 1224.5,710.9 1224.8,589.9 1225.2,875.6 1225.8,736.2 1226.4,872.9 1227.1,874.3 1227.7,875.4 1228.3,875.8 1229.0,873.2 1229.6,862.5 1230.3,875.4 1230.9,863.8 1231.5,875.3 1232.2,856.8 1232.8,875.2 1233.4,855.9 1233.6,851.2 1234.1,874.9 1234.7,863.6 1235.4,874.3 1236.0,867.6 1236.6,877.0 1237.3,866.2 1237.9,873.3 1238.5,860.3 1239.2,876.7 1239.8,874.0 1240.3,849.6 1240.4,874.9 1241.1,876.2 1241.7,876.0 1242.4,876.9 1243.0,875.8 1243.6,871.4 1244.3,875.2 1244.9,868.2 1245.5,876.1 1246.2,866.5 1246.8,875.3 1247.5,866.0 1248.1,873.4 1248.7,867.3 1249.4,873.0 1250.0,866.2 1250.6,872.5 1251.3,857.3 1251.9,870.0 1252.6,847.3 1253.2,875.5 1253.5,837.3 1253.8,845.7 1254.5,875.9 1255.1,873.8 1255.7,874.7 1256.4,875.5 1257.0,872.1 1257.7,875.6 1257.9,838.7 1258.3,874.8 1258.9,852.0 1259.6,869.8 1260.2,858.6 1260.8,874.5 1261.5,860.9 1262.1,876.5 1262.8,875.8 1263.4,874.6 1264.0,874.8 1264.7,876.4 1265.3,875.8 1265.9,876.6 1266.6,855.1 1267.2,872.5 1267.7,838.7 1267.9,842.9 1268.5,868.8 1269.1,852.2 1269.8,869.9 1270.4,850.2 1271.0,874.2 1271.7,852.6 1272.3,872.3 1273.0,857.8 1273.6,875.3 1274.2,854.5 1274.9,871.8 1275.5,865.5 1276.1,872.0 1276.8,861.3 1277.4,875.7 1278.1,856.0 1278.7,873.5 1279.3,833.0 1280.0,870.1 1280.6,803.3 1280.9,789.3 1281.2,872.9 1281.9,839.1 1282.5,868.8 1283.1,851.2 1283.8,874.9 1284.4,851.4 1285.1,869.3 1285.7,855.7 1286.3,875.0 1287.0,862.3 1287.6,876.3 1288.2,863.2 1288.9,873.4 1289.5,862.9 1290.2,872.1 1290.8,860.6 1291.4,874.7 1292.1,856.9 1292.7,871.2 1293.3,852.3 1294.0,868.3 1294.6,855.8 1295.3,869.4 1295.9,850.5 1296.5,865.1 1297.2,826.4 1297.8,848.9 1298.4,785.2 1298.5,758.6 1299.1,865.4 1299.7,832.8 1300.4,865.4 1301.0,848.5 1301.6,866.5 1302.3,846.6 1302.9,868.1 1303.5,850.5 1303.6,843.8 1304.2,863.8 1304.8,847.5 1305.5,865.3 1306.1,852.9 1306.7,866.0 1307.4,846.3 1308.0,869.1 1308.2,843.3 1308.6,845.7 1309.3,867.6 1309.9,852.3 1310.6,865.9 1311.2,833.4 1311.8,866.0 1312.4,807.2 1312.5,816.5 1313.1,862.5 1313.7,847.5 1314.4,868.3 1315.0,851.0 1315.7,866.0 1316.3,846.5 1316.9,868.1 1317.6,870.5 1318.2,861.8 1318.4,808.3 1318.8,863.2 1319.5,868.9 1320.1,844.1 1320.7,865.6 1321.4,840.4 1322.0,864.9 1322.7,841.8 1323.3,874.1 1323.9,818.0 1324.6,874.1 1324.9,794.7 1325.2,825.5 1325.8,871.5 1326.5,839.3 1327.1,870.2 1327.8,854.9 1328.4,874.7 1329.0,855.8 1329.7,873.4 1330.3,841.0 1330.7,833.3 1330.9,869.3 1331.6,854.0 1332.2,874.8 1332.9,864.7 1333.5,873.8 1334.1,863.0 1334.8,873.9 1335.4,862.6 1336.0,870.0 1336.7,858.9 1337.3,871.6 1338.0,873.2 1338.6,869.6 1339.2,871.1 1339.5,837.3 1339.9,865.6 1340.5,848.9 1341.1,865.9 1341.8,870.4 1342.4,871.3 1343.1,869.0 1343.7,871.2 1344.3,842.8 1344.5,831.0 1345.0,870.6 1345.6,836.3 1346.2,863.9 1346.9,837.5 1347.5,868.7 1348.2,842.0 1348.8,863.0 1349.4,838.2 1350.1,862.0 1350.7,822.0 1351.3,867.5 1352.0,740.2 1352.2,723.4 1352.6,867.0 1353.3,813.0 1353.9,860.6 1354.5,825.9 1355.2,854.5 1355.8,825.0 1356.4,857.8 1357.1,811.0 1357.7,853.3 1358.4,800.1 1359.0,851.9 1359.6,798.6 1360.3,833.4 1360.9,740.0 1361.0,702.1 1361.5,854.0 1362.2,770.6 1362.8,859.3 1363.4,815.7 1364.1,855.6 1364.7,820.9 1365.4,859.1 1366.0,826.4 1366.6,863.2 1367.3,839.1 1367.9,862.9 1368.5,827.3 1369.2,858.5 1369.8,788.9 1370.2,753.9 1370.5,873.4 1371.1,784.0 1371.7,869.5 1372.4,805.2 1373.0,868.0 1373.6,818.8 1374.3,865.3 1374.9,803.5 1375.6,862.0 1376.2,763.8 1376.8,857.9 1377.0,713.6 1377.5,776.9 1378.1,858.4 1378.7,794.5 1379.4,860.6 1380.0,830.2 1380.7,860.1 1381.3,828.2 1381.9,862.7 1382.6,829.0 1383.2,856.3 1383.8,837.9 1384.5,861.2 1385.1,818.4 1385.8,862.3 1386.4,824.5 1387.0,868.5 1387.7,766.0 1387.8,738.4 1388.3,868.0 1388.9,791.0 1389.6,867.2 1390.2,820.0 1390.9,856.5 1391.5,830.0 1392.1,863.6 1392.8,827.3 1393.4,867.7 1394.0,842.5 1394.7,870.0 1395.3,839.3 1396.0,867.0 1396.6,845.4 1397.2,871.9 1397.9,855.7 1398.5,869.2 1399.1,847.8 1399.8,864.7 1400.4,848.1 1401.0,867.2 1401.7,809.8 1402.3,873.4 1402.4,750.7 1403.0,810.9 1403.6,869.3 1404.2,830.8 1404.9,861.8 1405.5,836.9 1406.1,872.2 1406.8,844.4 1407.4,869.9 1408.1,858.5 1408.7,869.9 1409.3,837.0 1410.0,874.9 1410.6,827.5 1411.2,874.3 1411.9,817.7 1412.5,873.5 1413.2,811.0 1413.8,870.3 1414.4,805.9 1414.7,804.4 1415.1,862.4 1415.7,811.7 1416.3,873.5 1417.0,819.0 1417.6,868.5 1418.3,819.9 1418.9,868.0 1419.1,784.0 1419.5,800.8 1420.2,865.4 1420.8,819.8 1421.4,873.2 1422.1,827.0 1422.7,872.0 1423.3,802.1 1423.4,807.0 1424.0,870.2 1424.6,835.8 1425.3,870.0 1425.9,839.4 1426.5,865.3 1427.2,824.2 1427.8,870.9 1428.5,809.7 1429.1,866.1 1429.7,764.5 1429.8,745.4 1430.4,870.6 1431.0,820.4 1431.6,869.5 1432.3,863.2 1432.9,868.0 1433.6,871.0 1434.2,869.4 1434.8,870.5 1435.5,867.4 1436.1,867.4 1436.7,870.2 1437.4,848.0 1438.0,865.9 1438.7,845.8 1439.3,868.3 1439.9,832.0 1440.6,867.1 1441.2,813.2 1441.8,871.4 1442.5,761.5 1443.0,740.0 1443.1,869.1 1443.7,801.4 1444.4,863.3 1445.0,821.3 1445.7,862.5 1446.3,809.1 1446.9,847.1 1447.6,790.5 1448.2,837.7 1448.8,838.5 1449.4,552.0 1449.5,837.9 1450.1,840.9 1450.8,840.6 1451.4,848.2 1452.0,852.8 1452.7,829.4 1453.3,856.9 1453.9,843.0 1454.6,864.6 1455.2,816.3 1455.9,865.9 1456.2,782.4 1456.5,820.1 1457.1,863.4 1457.8,835.0 1458.4,857.9 1459.0,831.2 1459.7,853.4 1460.3,857.3 1461.0,857.3 1461.6,857.7 1462.2,856.1 1462.9,863.4 1463.5,855.9 1464.0,775.5 1464.1,807.2 1464.8,867.0 1465.4,834.7 1466.1,868.9 1466.7,833.2 1467.3,868.9 1468.0,825.4 1468.6,864.6 1469.2,828.6 1469.9,868.6 1470.5,834.0 1471.2,863.9 1471.8,827.2 1472.4,864.2 1473.1,833.6 1473.7,870.1 1474.3,841.2 1475.0,872.0 1475.6,844.0 1476.3,872.8 1476.9,853.2 1477.5,869.3 1478.2,855.8 1478.8,872.8 1479.4,855.7 1480.1,870.2 1480.7,858.5 1481.3,870.7 1482.0,861.2 1482.6,871.6 1483.3,861.5 1483.9,869.6 1484.5,837.2 1485.2,870.4 1485.8,757.6 1486.0,740.0 1486.4,872.5 1487.1,815.5 1487.7,867.9 1488.4,825.1 1489.0,870.7 1489.6,873.1 1490.3,871.6 1490.9,875.8 1491.5,869.7 1492.2,831.7 1492.8,872.7 1493.5,824.2 1494.1,875.5 1494.7,814.4 1495.4,873.4 1496.0,813.4 1496.6,866.1 1497.3,810.8 1497.9,874.9 1498.6,813.0 1499.2,869.9 1499.6,792.8 1499.8,819.4 1500.5,870.9 1501.1,813.3 1501.7,860.3 1502.4,822.4 1503.0,867.5 1503.7,832.6 1504.3,867.6 1504.9,848.2 1505.6,861.4 1506.2,841.1 1506.8,857.5 1507.5,841.1 1508.1,856.4 1508.8,841.7 1509.4,858.1 1510.0,832.7 1510.7,855.9 1511.3,814.1 1511.9,855.6 1512.6,855.7 1512.8,740.0 1513.2,853.4 1513.9,857.5 1514.5,851.5 1515.1,843.0 1515.8,842.7 1516.4,820.7 1517.0,839.0 1517.7,819.5 1518.3,839.5 1518.9,815.2 1519.6,836.0 1520.2,803.3 1520.9,843.0 1521.4,784.0 1521.5,788.3 1522.1,858.1 1522.8,819.4 1523.4,860.3 1524.0,821.6 1524.7,861.3 1525.3,813.8 1526.0,862.7 1526.6,782.9 1527.2,866.9 1527.9,869.9 1528.5,869.5 1529.1,864.1 1529.8,863.7 1530.2,595.6 1530.4,623.0 1531.1,854.0 1531.7,746.1 1532.3,859.0 1533.0,792.7 1533.6,852.7 1534.2,769.5 1534.9,853.4 1535.5,738.8 1536.2,846.9 1536.2,667.8 1536.8,732.0 1537.4,849.8 1538.1,793.5 1538.7,850.8 1539.3,857.0 1540.0,858.8 1540.6,864.4 1541.3,869.4 1541.9,843.5 1542.5,875.2 1543.2,848.7 1543.8,864.8 1544.4,843.0 1545.1,862.2 1545.7,820.1 1546.4,864.2 1547.0,799.4 1547.6,865.2 1547.8,747.0 1548.3,779.9 1548.9,868.0 1549.5,788.1 1550.2,869.3 1550.8,784.9 1551.5,860.8 1552.1,868.7 1552.7,866.2 1553.4,867.1 1554.0,865.3 1554.6,754.1 1555.3,856.2 1555.9,679.8 1555.9,704.3 1556.6,861.1 1557.2,859.0 1557.8,853.2 1558.5,863.3 1559.1,864.7 1559.7,864.1 1560.4,866.0 1561.0,805.1 1561.6,865.3 1562.3,734.0 1562.9,866.4 1563.6,679.0 1564.2,861.9 1564.5,576.3 1564.8,658.4 1565.5,857.2 1566.1,751.5 1566.7,867.0 1567.4,822.4 1568.0,865.3 1568.7,838.8 1569.3,867.2 1569.9,853.1 1570.6,869.5 1571.2,853.0 1571.8,867.8 1572.5,853.6 1573.1,868.8 1573.8,853.4 1574.4,866.0 1575.0,846.5 1575.7,868.9 1576.3,838.3 1576.9,870.5 1577.6,816.4 1578.2,870.5 1578.9,771.6 1579.5,859.2 1580.1,733.1 1580.8,846.7 1581.4,724.6 1581.6,687.5 1582.0,847.8 1582.7,849.2 1583.3,851.4 1584.0,852.3 1584.6,849.2 1585.2,751.9 1585.9,857.9 1586.5,742.5 1587.1,857.1 1587.8,747.2 1587.9,699.7 1588.4,864.4 1589.1,751.4 1589.7,862.1 1590.3,812.0 1591.0,868.8 1591.6,839.4 1592.2,870.1 1592.9,844.6 1593.5,871.8 1594.2,847.5 1594.8,864.2 1595.4,839.1 1596.1,866.2 1596.7,820.3 1597.3,859.5 1598.0,790.8 1598.6,862.7 1599.0,756.9 1599.2,791.6 1599.9,863.3 1600.5,810.1 1601.2,860.4 1601.8,805.5 1602.4,860.5 1603.1,816.3 1603.7,862.3 1604.3,741.9 1605.0,856.4 1605.5,666.6 1605.6,709.9 1606.3,859.2 1606.9,796.2 1607.5,866.6 1608.2,865.1 1608.8,864.4 1609.4,871.2 1610.1,869.2 1610.7,871.2 1611.4,873.5 1612.0,842.1 1612.6,866.0 1613.3,841.3 1613.9,862.8 1614.5,845.5 1615.2,859.7 1615.8,835.6 1616.5,863.2 1617.1,839.8 1617.7,857.8 1618.4,838.9 1619.0,857.6 1619.6,822.4 1619.8,821.1 1620.3,859.6 1620.9,834.8 1621.6,854.1 1622.2,833.5 1622.8,854.2 1623.5,807.1 1624.1,857.9 1624.7,756.7 1625.4,848.0 1625.6,728.5 1626.0,755.0 1626.7,845.5 1627.3,745.3 1627.9,845.0 1628.6,845.2 1629.2,842.3 1629.8,837.6 1630.5,840.4 1631.1,735.0 1631.6,721.5 1631.8,844.9 1632.4,770.9 1633.0,853.4 1633.7,763.8 1634.3,854.5 1634.9,740.0 1634.9,758.3 1635.6,864.0 1636.2,856.5 1636.9,867.4 1637.5,867.5 1638.1,868.3 1638.8,870.6 1639.4,872.2 1640.0,772.1 1640.7,873.3 1641.3,725.8 1641.9,855.1 1642.5,635.4 1642.6,692.9 1643.2,851.6 1643.9,714.8 1644.5,861.2 1645.1,740.6 1645.8,853.8 1646.4,760.4 1647.0,842.3 1647.7,713.6 1648.3,678.9 1648.3,851.8 1649.0,735.9 1649.6,852.6 1650.2,786.7 1650.9,858.3 1651.5,787.5 1652.1,854.2 1652.8,716.1 1653.4,850.2 1653.8,618.0 1654.1,711.0 1654.7,864.3 1655.3,743.3 1656.0,867.5 1656.6,838.3 1657.2,863.3 1657.9,845.4 1658.5,871.1 1659.2,842.6 1659.8,866.8 1660.4,842.6 1661.1,866.6 1661.7,841.2 1662.3,864.6 1663.0,835.4 1663.6,858.4 1664.3,863.7 1664.9,856.6 1665.5,863.2 1666.2,857.1 1666.8,856.4 1667.4,855.8 1668.1,805.2 1668.7,851.1 1669.4,854.5 1670.0,852.8 1670.6,855.7 1671.0,707.1 1671.3,845.8 1671.9,858.1 1672.5,847.8 1673.2,773.1 1673.8,855.7 1674.5,770.4 1675.1,859.3 1675.7,787.4 1676.4,862.5 1677.0,799.3 1677.6,860.4 1678.3,737.7 1678.9,854.4 1679.5,631.6 1679.8,518.0 1680.2,856.0 1680.8,697.3 1681.5,857.7 1682.1,776.1 1682.7,852.5 1683.4,805.5 1684.0,848.4 1684.6,785.2 1685.3,839.7 1685.9,743.9 1686.6,837.1 1687.2,659.6 1687.8,832.3 1687.9,632.6 1688.5,686.3 1689.1,831.2 1689.7,716.9 1690.4,823.8 1691.0,693.2 1691.7,822.1 1692.3,718.1 1692.9,816.8 1693.6,693.4 1694.2,818.6 1694.8,543.5 1694.8,602.1 1695.5,827.8 1696.1,697.4 1696.8,841.8 1697.4,770.7 1698.0,848.2 1698.7,769.7 1699.3,860.1 1699.9,786.5 1700.6,856.5 1701.2,856.0 1701.9,863.8 1702.5,865.6 1703.1,863.0 1703.8,829.9 1704.4,862.5 1705.0,860.1 1705.7,856.5 1706.3,853.4 1707.0,850.4 1707.6,784.0 1708.2,835.0 1708.9,801.0 1709.5,849.5 1710.1,786.6 1710.8,864.2 1711.4,795.4 1712.1,866.5 1712.7,561.9 1712.9,409.7 1713.3,852.6 1714.0,655.2 1714.6,839.6 1714.7,612.0 1715.2,697.7 1715.9,829.2" fill="none" stroke="#637dea" stroke-width="3.1" stroke-linejoin="bevel"/>
<polyline points="204.2,820.6 205.1,812.6 206.0,806.9 206.9,799.8 207.8,795.1 208.6,791.8 209.4,787.8 210.3,781.4 211.1,778.9 211.9,780.7 212.7,787.8 213.5,789.3 214.4,794.0 215.1,791.1 215.8,792.3 216.6,788.3 217.3,787.9 218.1,784.7 218.8,788.0 219.5,792.0 220.3,793.4 221.0,798.7 221.7,803.0 222.5,804.9 223.3,802.9 224.1,801.8 224.9,799.5 225.7,795.1 226.5,795.9 227.3,792.8 228.2,791.4 229.1,788.6 229.9,785.7 230.8,785.9 231.6,776.9 232.4,765.0 233.2,754.1 234.0,744.3 234.7,732.6 235.9,714.1 236.7,720.2 237.4,724.2 238.2,728.0 239.0,726.0 239.9,720.2 240.7,718.1 241.5,712.9 242.4,709.5 243.3,714.3 244.2,717.2 245.2,718.7 245.9,717.9 246.7,718.8 247.5,721.0 248.4,724.5 249.3,732.2 250.2,734.9 251.0,730.0 251.8,726.2 252.5,720.2 253.3,716.4 254.1,714.4 255.0,711.9 255.9,709.7 256.7,708.3 257.5,702.9 258.3,697.1 259.0,690.9 259.8,686.5 260.6,679.6 261.4,672.9 262.1,682.2 262.9,689.4 263.7,695.6 264.5,698.7 265.4,698.6 266.3,697.7 267.1,700.2 268.1,694.7 269.0,686.3 269.8,695.1 270.5,701.8 271.3,707.1 272.1,720.2 272.9,732.6 274.1,761.6 274.9,751.4 275.7,739.6 276.5,741.2 277.4,746.4 278.2,748.2 279.1,749.8 279.9,753.5 280.8,750.3 281.6,752.0 282.5,751.1 283.4,747.7 284.1,742.7 284.9,742.3 285.6,737.4 286.4,734.5 287.3,737.1 288.2,741.7 289.1,746.5 290.0,751.1 290.9,754.9 291.8,755.1 292.6,760.4 293.8,773.1 294.5,769.4 295.3,762.8 296.1,760.4 297.0,764.2 297.8,765.5 298.7,770.6 299.6,772.0 300.4,778.2 301.3,780.7 302.2,787.0 303.0,789.3 303.9,786.6 304.8,783.6 305.6,783.7 306.5,781.2 307.3,778.8 308.1,778.9 308.8,779.1 309.6,779.4 310.4,777.0 311.1,777.8 311.9,770.2 312.7,767.7 313.5,760.4 314.2,754.4 315.0,751.7 315.8,744.7 316.5,753.0 317.3,757.8 318.1,765.0 318.9,778.2 319.7,791.7 320.5,789.4 321.2,787.6 322.0,785.1 322.7,782.4 323.6,782.3 324.5,782.3 325.3,783.3 326.2,781.2 327.0,776.8 327.7,772.0 328.5,767.8 329.4,771.5 330.2,772.3 331.1,775.4 332.0,778.9 332.9,782.3 333.7,781.9 334.6,783.5 335.5,784.7 336.2,786.6 337.0,792.1 337.8,796.3 338.5,790.1 339.3,781.3 340.1,776.6 340.8,776.2 341.5,775.4 342.3,772.2 343.0,773.6 343.7,772.1 344.4,772.1 345.2,769.9 345.9,769.7 346.6,770.9 347.3,771.5 348.0,769.1 348.8,769.6 349.5,772.5 350.2,774.1 350.9,771.7 351.7,773.1 352.4,775.6 353.2,778.7 353.9,780.2 354.7,783.6 355.5,792.3 356.3,802.1 357.1,808.3 357.9,816.0 358.7,812.8 359.4,811.1 360.2,807.4 360.9,805.6 361.8,806.2 362.7,809.0 363.5,807.1 364.4,810.2 365.3,811.3 366.1,812.9 367.0,812.0 367.9,813.7 368.6,816.4 369.4,822.6 370.2,825.2 371.0,834.0 371.8,844.9 372.6,840.5 373.3,838.3 374.1,836.2 374.8,832.2 375.7,832.0 376.6,834.4 377.4,835.9 378.3,838.0 379.2,837.3 380.0,833.7 380.9,833.3 381.8,829.9 382.9,836.8 383.7,829.3 384.5,823.8 385.2,818.3 386.1,817.4 387.0,816.9 387.8,813.8 388.7,812.5 389.5,804.8 390.3,797.9 391.0,792.8 391.8,788.3 392.6,783.6 393.5,785.1 394.3,790.3 395.1,793.2 396.0,793.4 396.8,797.5 397.7,791.2 398.7,787.9 399.6,781.2 400.3,779.5 401.1,777.8 401.9,773.7 402.6,772.0 403.4,762.8 404.1,755.7 404.9,748.8 405.8,744.6 406.8,737.1 407.7,732.6 408.6,716.7 409.6,702.1 410.3,705.7 411.1,709.8 411.9,714.1 412.6,712.3 413.4,712.9 414.1,708.4 414.9,708.3 415.8,716.0 416.7,729.4 417.7,737.3 418.5,740.5 419.4,742.7 420.3,742.2 421.1,744.2 421.9,741.0 422.7,735.9 423.4,729.1 424.3,743.7 425.1,760.4 426.0,776.4 426.9,790.5 428.1,836.8 429.2,861.1 430.0,850.5 430.8,837.9 431.5,825.2 432.4,824.7 433.3,823.2 434.2,822.9 435.0,822.9 435.8,827.2 436.6,832.0 437.3,839.1 438.2,834.3 439.1,827.9 439.9,824.7 440.8,818.3 441.6,806.4 442.4,799.8 443.1,788.2 444.1,787.8 445.0,785.9 445.8,792.5 446.6,797.3 447.4,802.2 448.2,805.6 449.1,790.2 450.1,774.3 450.8,775.4 451.6,781.5 452.4,783.6 453.2,776.1 453.9,770.4 454.7,765.0 455.5,761.3 456.2,756.5 457.0,751.7 457.7,747.7 458.5,751.0 459.3,751.4 460.1,751.9 460.9,753.2 461.6,755.8 462.5,761.6 463.4,764.4 464.3,769.9 465.1,773.1 466.0,767.0 466.9,760.9 467.7,756.8 468.6,751.1 469.5,754.7 470.3,754.5 471.2,759.3 472.1,760.4 472.9,760.9 473.8,759.3 474.7,758.2 475.5,755.8 476.3,744.5 477.1,737.8 477.9,728.0 478.6,729.1 479.4,725.4 480.2,725.9 480.9,725.5 481.7,726.2 482.5,725.7 483.3,727.3 484.0,729.4 484.8,732.6 485.6,731.4 486.3,733.5 487.1,737.3 488.0,736.0 488.9,736.3 489.7,736.4 490.6,738.4 491.4,736.8 492.1,732.9 492.9,728.0 493.7,731.0 494.5,737.3 495.2,741.9 496.0,740.8 496.8,740.4 497.5,740.1 498.3,740.9 499.1,740.3 499.9,739.6 500.6,734.8 501.4,729.8 502.2,726.8 502.9,727.2 503.6,727.4 504.3,730.1 505.1,731.7 505.8,731.4 506.5,731.2 507.2,732.6 508.0,734.9 508.7,732.1 509.5,730.7 510.3,728.0 511.4,709.5 512.2,699.0 513.1,686.3 513.8,682.4 514.6,680.6 515.3,676.4 516.1,672.4 516.8,664.4 517.6,656.5 518.4,649.3 519.4,643.0 520.4,646.2 521.4,649.5 522.4,650.9 523.3,650.8 524.3,639.7 525.3,629.4 526.3,631.8 527.2,632.6 528.2,636.3 529.2,640.4 530.1,643.3 531.1,648.2 532.1,649.6 533.1,650.8 534.0,645.1 535.0,637.8 535.7,628.1 536.5,621.5 537.2,613.8 538.2,637.8 539.5,663.7 540.8,674.1 541.8,666.7 542.8,659.8 543.8,656.2 544.7,649.5 545.6,651.2 546.5,649.0 547.3,649.5 548.3,658.2 549.3,663.7 550.1,674.3 551.0,682.5 551.7,674.8 552.5,668.9 553.4,666.6 554.2,663.1 555.1,662.4 556.1,665.6 557.1,666.3 558.0,669.6 559.0,671.5 560.0,669.2 560.9,663.7 561.8,660.1 562.7,654.9 563.5,649.5 564.5,653.6 565.5,655.9 566.5,657.5 567.4,658.5 568.3,650.3 569.2,645.5 570.0,638.4 570.9,638.8 571.7,641.8 572.6,645.6 573.5,648.8 574.3,648.1 575.2,652.1 576.2,649.1 577.1,649.5 578.4,632.6 579.7,622.2 580.6,620.2 581.5,622.9 582.3,620.9 583.3,617.1 584.3,615.8 585.6,624.8 586.5,616.4 587.5,611.9 588.8,592.4 590.1,574.3 591.4,585.9 592.4,601.5 593.2,595.1 594.0,585.9 595.0,577.3 595.9,571.7 596.9,575.6 597.9,576.9 598.9,582.1 599.8,585.9 600.7,590.5 601.5,592.4 602.3,587.7 603.1,579.4 604.1,573.9 605.0,567.8 606.0,567.0 607.0,563.9 607.9,570.1 608.9,580.1 610.2,570.4 611.5,560.0 611.9,545.0 612.8,543.8 613.7,540.5 614.7,538.1 615.6,514.6 616.5,489.5 617.0,460.1 617.8,454.3 618.6,452.6 619.4,447.3 620.1,452.5 620.9,452.5 621.7,457.8 622.5,451.6 623.4,447.0 624.3,442.6 625.2,435.8 625.9,434.3 626.7,433.7 627.5,434.6 628.2,438.2 629.0,444.3 629.8,448.5 630.7,446.3 631.5,441.7 632.4,438.4 633.3,435.8 634.0,425.7 634.8,415.9 635.6,406.8 636.3,403.4 637.1,399.0 637.9,397.6 638.8,395.5 639.6,395.4 640.5,391.1 641.4,389.5 642.2,389.6 643.1,386.4 644.0,387.6 644.8,386.0 645.8,381.8 646.7,375.6 647.5,394.2 648.3,411.4 649.1,416.7 649.8,421.8 650.6,427.6 651.3,432.3 652.2,428.5 653.2,420.1 654.1,416.1 655.0,408.1 655.8,404.3 656.7,398.6 657.6,390.6 658.3,387.4 659.1,383.9 659.9,380.9 660.7,385.8 661.4,387.7 662.2,392.9 663.0,391.2 663.7,390.2 664.5,390.6 665.4,398.3 666.4,404.5 667.3,412.6 668.0,404.9 668.8,400.1 669.6,394.4 670.3,386.0 671.1,379.4 671.8,375.2 672.6,368.3 673.3,362.8 674.1,368.1 674.9,370.9 675.6,374.4 676.6,368.1 677.5,362.5 678.4,358.2 679.3,348.6 680.3,342.7 681.2,335.0 682.0,340.7 682.7,346.1 683.5,353.6 684.4,353.8 685.2,354.4 686.0,355.9 687.0,346.2 687.9,332.8 688.8,323.5 689.7,314.4 690.6,301.4 691.4,290.9 692.3,279.5 693.2,274.7 694.2,271.5 695.1,265.6 695.9,261.3 696.6,254.7 697.4,248.9 698.3,256.0 699.2,263.3 700.0,271.9 700.8,280.1 701.6,286.4 702.4,311.5 703.2,337.4 704.1,351.6 705.0,364.0 705.8,339.8 706.7,311.9 707.6,331.4 708.5,351.2 709.3,337.4 710.1,324.7 710.8,313.0 711.6,315.8 712.4,317.6 713.1,318.8 713.9,325.3 714.7,329.5 715.5,332.7 716.4,330.9 717.3,329.9 718.2,330.4 719.2,337.5 720.1,346.6 721.0,350.8 721.9,358.2 722.9,362.8 723.8,374.7 724.7,383.7 725.5,388.5 726.3,390.1 727.1,380.0 727.8,373.3 728.6,362.0 729.3,353.6 730.2,352.0 731.1,351.9 732.0,348.1 732.8,348.5 733.7,350.7 734.6,357.6 735.4,359.3 736.3,364.0 737.2,367.7 738.0,373.0 738.9,377.7 739.8,381.3 740.5,383.2 741.3,388.4 742.1,392.9 742.9,382.6 743.6,372.8 744.4,362.8 745.3,357.6 746.1,355.1 747.0,352.5 747.9,346.6 748.6,342.7 749.4,339.8 750.1,334.7 750.9,332.7 751.8,319.9 752.7,309.5 753.7,296.8 754.4,297.2 755.2,302.2 756.0,302.6 756.9,297.3 757.8,288.7 758.6,291.7 759.4,299.8 760.1,302.6 761.1,297.9 762.0,295.2 762.9,289.9 763.7,294.0 764.5,295.2 765.2,299.1 766.0,296.4 766.8,292.8 767.6,288.7 768.5,278.4 769.4,265.6 770.4,261.2 771.5,258.6 772.4,268.9 773.3,277.1 774.1,284.4 774.9,288.6 775.7,293.4 776.4,288.9 777.2,282.5 777.9,279.4 778.7,274.8 779.7,285.8 780.8,298.0 782.1,318.8 783.0,311.6 783.8,302.6 784.5,308.0 785.3,312.1 786.1,316.5 786.8,305.2 787.6,297.0 788.4,286.4 789.3,284.6 790.1,280.5 791.0,281.0 791.9,277.1 792.6,279.3 793.4,278.7 794.2,281.8 795.1,278.9 795.9,271.1 796.8,267.2 797.7,263.3 798.4,261.2 799.2,257.9 799.9,254.8 800.7,251.7 801.6,254.6 802.5,256.1 803.4,258.6 804.3,253.2 805.2,248.1 806.0,243.0 806.9,240.1 807.7,238.6 808.5,236.5 809.2,233.2 810.1,231.5 811.0,230.4 811.8,227.0 812.7,225.7 813.5,226.9 814.2,229.4 815.0,232.0 815.8,236.2 816.6,235.6 817.3,240.1 818.1,245.5 818.9,249.9 819.7,256.3 820.4,252.0 821.2,244.9 822.0,240.1 822.7,243.3 823.5,247.4 824.3,251.7 825.1,245.5 825.8,240.1 826.6,232.7 827.4,236.1 828.1,242.1 828.9,244.7 829.7,241.3 830.5,240.0 831.2,238.9 832.0,243.1 832.8,249.0 833.5,256.3 834.5,262.1 835.4,265.6 836.3,263.4 837.3,258.1 838.2,256.3 839.0,254.2 839.9,254.2 840.8,254.7 841.6,252.8 842.5,256.7 843.4,259.0 844.3,261.0 845.1,263.3 846.3,272.5 847.1,268.8 847.8,267.5 848.6,265.6 849.4,269.7 850.1,276.5 850.9,281.8 851.7,291.3 852.5,300.3 853.3,294.5 854.1,290.0 854.8,286.4 855.6,289.3 856.4,288.0 857.1,292.8 857.9,293.4 858.8,304.2 859.7,311.9 860.9,342.0 861.8,343.0 862.7,340.0 863.6,339.7 864.4,335.2 865.2,330.7 866.0,325.8 866.7,324.0 867.5,323.1 868.3,318.8 869.0,313.4 869.8,305.7 870.6,300.3 871.5,297.7 872.4,292.2 873.5,300.8 874.5,309.6 875.5,303.0 876.4,295.7 877.2,304.3 877.9,309.1 878.7,318.8 879.5,325.7 880.3,330.4 881.1,329.5 881.9,327.3 882.6,325.8 883.6,316.6 884.5,307.3 885.3,314.0 886.0,319.9 886.8,328.1 887.6,332.3 888.4,336.2 889.3,328.0 890.3,323.5 891.0,326.5 891.8,330.2 892.6,332.7 893.4,325.6 894.1,319.1 894.9,311.9 895.7,312.2 896.4,310.4 897.2,307.3 897.4,310.9 898.1,304.9 898.9,302.8 899.7,297.0 900.5,293.7 901.2,287.5 902.0,285.5 902.8,283.4 903.6,281.4 904.4,279.3 905.1,279.7 905.9,278.1 906.9,288.1 907.8,294.7 908.6,293.3 909.3,294.7 910.1,292.4 911.3,305.2 912.1,304.8 913.0,301.4 913.9,303.1 914.7,300.5 915.5,302.9 916.3,306.1 917.0,306.3 917.8,306.4 918.6,305.7 919.4,304.0 920.1,308.0 920.9,314.5 921.7,317.9 922.8,309.8 923.6,316.7 924.5,320.2 925.6,308.6 926.5,320.5 927.5,329.5 928.3,343.1 929.1,357.3 930.5,375.8 931.3,369.9 932.1,361.9 932.9,367.2 933.6,371.1 934.4,378.1 935.2,373.9 936.0,371.8 936.7,371.1 937.7,376.9 938.6,385.0 939.4,390.0 940.2,397.8 941.1,385.6 942.1,373.5 942.9,383.5 943.7,392.0 944.6,389.2 945.5,386.2 946.6,388.8 947.6,392.0 949.0,422.1 949.8,441.2 950.6,459.1 951.4,460.7 952.2,463.8 953.6,491.5 954.4,482.1 955.3,473.0 956.0,467.5 956.8,459.5 957.6,453.3 958.5,459.6 959.4,468.4 960.2,475.8 961.0,480.0 961.8,480.1 962.6,477.9 963.4,477.7 964.3,469.4 965.2,462.3 966.1,454.5 966.9,462.1 967.6,467.9 968.4,474.2 969.1,483.4 970.1,463.2 971.0,445.2 971.8,436.0 972.5,423.0 973.3,414.0 974.2,412.7 975.2,410.4 976.1,410.5 976.9,418.6 977.7,429.0 978.6,412.1 979.6,397.8 980.3,400.1 981.1,401.8 981.9,405.9 982.7,404.8 983.4,405.9 984.2,408.2 985.0,403.0 985.7,400.4 986.5,396.6 987.4,387.5 988.4,380.0 989.3,374.6 990.0,377.6 990.8,380.6 991.5,385.0 992.3,387.4 993.1,393.7 993.8,403.2 994.6,411.7 995.4,407.8 996.2,402.8 996.9,401.2 997.7,412.4 998.5,418.6 999.2,429.0 1000.0,422.4 1000.8,418.9 1001.6,414.0 1002.4,411.8 1003.3,412.7 1004.2,410.8 1005.0,410.5 1005.8,403.4 1006.6,397.6 1007.4,393.8 1008.1,400.3 1008.9,404.0 1009.7,410.5 1010.4,418.6 1011.2,424.3 1012.0,431.3 1012.8,440.0 1013.5,444.4 1014.3,452.2 1015.1,448.1 1015.8,445.1 1016.6,442.9 1017.5,444.2 1018.4,443.4 1019.2,442.3 1020.1,442.9 1020.9,444.2 1021.7,448.7 1023.1,438.3 1024.0,441.3 1024.9,444.8 1025.9,445.2 1026.7,446.8 1027.6,445.6 1028.5,446.8 1029.3,449.9 1030.2,447.1 1031.1,446.2 1032.0,444.5 1032.8,445.2 1033.6,440.4 1034.4,439.7 1035.1,436.0 1035.9,429.9 1036.7,419.3 1037.5,412.8 1038.2,413.2 1039.0,409.6 1039.8,408.2 1040.6,414.0 1041.4,417.5 1042.1,405.9 1043.0,413.3 1043.9,417.5 1044.7,447.6 1045.6,474.2 1046.7,452.2 1047.5,450.3 1048.3,451.4 1049.0,452.2 1050.0,454.9 1050.9,458.6 1051.8,459.1 1052.7,463.9 1053.7,471.9 1054.6,465.8 1055.5,461.4 1056.3,462.8 1057.1,461.4 1057.9,455.3 1058.7,451.7 1059.5,447.6 1060.2,448.3 1061.0,451.2 1061.7,453.6 1062.5,453.3 1063.4,450.9 1064.3,452.0 1065.2,449.9 1066.2,447.9 1067.1,444.1 1067.9,450.6 1068.7,454.5 1069.9,463.8 1070.6,461.7 1071.4,460.8 1072.2,456.8 1073.0,456.7 1073.7,457.2 1074.5,458.0 1075.3,457.7 1076.0,460.6 1076.8,460.3 1077.7,459.3 1078.6,457.6 1079.4,456.4 1080.3,456.8 1081.0,455.7 1081.8,453.2 1082.5,451.6 1083.3,448.7 1084.1,443.2 1084.8,438.6 1085.6,433.7 1086.7,424.2 1087.7,417.5 1088.6,416.6 1089.6,414.0 1090.4,408.0 1091.2,405.9 1092.1,409.8 1093.0,414.0 1093.8,413.1 1094.6,410.8 1095.3,408.2 1096.1,407.7 1096.9,409.5 1097.7,411.7 1098.4,410.7 1099.2,407.6 1100.0,404.7 1100.7,406.2 1101.5,406.2 1102.3,404.7 1103.1,409.5 1103.8,416.3 1104.6,419.8 1105.4,415.3 1106.1,408.3 1106.9,403.6 1107.7,402.3 1108.5,400.3 1109.2,401.2 1110.0,403.2 1110.8,407.7 1111.5,408.2 1112.3,407.0 1113.1,409.2 1113.9,409.3 1114.8,406.6 1115.7,405.4 1116.6,405.9 1117.4,408.8 1118.1,409.5 1118.9,411.0 1119.7,415.1 1120.4,418.8 1121.2,425.7 1122.0,430.2 1122.7,423.2 1123.5,413.6 1124.3,408.2 1125.1,402.9 1125.8,401.6 1126.6,395.5 1127.4,393.2 1128.1,393.4 1128.9,392.0 1129.7,392.4 1130.5,394.7 1131.2,394.3 1132.0,395.9 1132.8,397.8 1133.5,397.8 1134.3,395.6 1135.1,391.9 1135.9,390.8 1136.7,387.5 1137.6,385.1 1138.5,386.0 1139.3,382.7 1140.1,381.6 1140.9,381.6 1141.6,383.9 1142.4,380.3 1143.2,371.9 1144.0,367.7 1144.9,367.3 1145.8,363.7 1146.6,364.6 1147.4,368.8 1148.2,377.4 1149.1,386.2 1149.8,384.5 1150.6,386.4 1151.3,384.9 1152.1,383.9 1152.8,385.6 1153.6,387.2 1154.4,387.4 1155.2,388.1 1155.9,385.2 1156.7,385.0 1157.9,373.5 1158.6,378.1 1159.4,381.7 1160.2,386.2 1160.9,386.2 1161.7,390.6 1162.5,390.8 1163.4,391.2 1164.2,392.1 1165.1,389.6 1166.0,390.8 1166.8,390.7 1167.7,390.1 1168.6,390.9 1169.4,389.7 1170.4,385.7 1171.3,384.4 1172.2,382.7 1173.0,382.4 1173.7,380.4 1174.5,382.1 1175.2,381.6 1176.1,384.0 1177.0,384.1 1177.8,386.5 1178.7,387.4 1179.5,390.1 1180.2,390.8 1181.0,394.3 1181.8,397.6 1182.6,404.0 1183.3,405.9 1184.1,402.9 1184.9,401.0 1185.6,398.9 1186.4,392.2 1187.2,387.8 1188.0,383.9 1188.8,383.1 1189.7,386.8 1190.6,386.5 1191.4,386.2 1192.2,385.8 1193.0,384.3 1193.7,380.4 1194.5,380.5 1195.3,381.4 1196.1,379.2 1196.8,380.9 1197.6,382.0 1198.4,383.9 1199.1,383.6 1199.8,381.4 1200.5,379.5 1201.3,375.6 1202.0,373.6 1202.8,377.4 1203.5,378.6 1204.3,381.7 1205.2,384.2 1206.0,384.5 1206.9,382.6 1207.8,384.0 1208.7,386.0 1209.5,383.3 1210.4,383.2 1211.3,385.1 1212.1,386.6 1213.0,385.5 1213.9,387.0 1214.7,387.5 1215.6,388.0 1216.5,385.6 1217.3,388.4 1218.2,387.5 1219.1,386.3 1219.9,386.6 1220.8,386.0 1221.7,386.3 1222.6,390.2 1223.5,392.1 1224.3,398.3 1225.2,402.5 1225.9,403.2 1226.7,404.0 1227.5,407.1 1228.2,405.6 1229.0,405.2 1229.8,404.8 1230.6,399.7 1231.4,397.9 1232.3,400.5 1233.3,406.0 1234.1,407.6 1235.0,407.9 1235.9,409.6 1236.7,408.3 1237.5,410.2 1238.3,409.8 1239.0,408.3 1239.9,411.8 1240.7,416.4 1241.6,410.4 1242.5,407.1 1243.3,406.8 1244.1,407.8 1244.8,408.3 1245.6,409.9 1246.4,411.5 1247.1,412.9 1247.9,412.0 1248.7,413.6 1249.5,411.8 1250.4,408.0 1251.3,406.0 1252.1,401.8 1252.9,397.9 1253.7,404.6 1254.6,408.3 1255.3,410.1 1256.1,408.6 1256.8,409.0 1257.6,410.6 1258.5,414.3 1259.4,413.6 1260.3,418.0 1261.2,415.6 1262.1,416.2 1263.0,415.2 1263.8,414.1 1264.7,408.7 1265.7,406.0 1266.6,397.2 1267.5,392.1 1268.5,390.1 1269.4,391.6 1270.3,389.8 1271.1,389.6 1271.8,391.7 1272.6,389.8 1273.4,388.6 1274.2,387.1 1274.9,382.8 1275.9,377.5 1276.8,375.9 1277.9,363.1 1278.8,367.1 1279.6,373.6 1280.3,370.5 1281.1,371.0 1281.9,370.1 1282.7,371.8 1283.4,372.9 1284.2,377.0 1285.0,374.5 1285.7,370.0 1286.5,368.9 1287.3,367.4 1288.1,366.4 1288.8,366.6 1289.6,368.6 1290.4,367.8 1291.1,368.9 1291.9,363.7 1292.7,358.6 1293.5,356.2 1294.3,351.9 1295.1,348.1 1296.5,344.6 1297.3,350.9 1298.1,356.2 1299.0,354.0 1299.9,350.4 1300.8,354.9 1301.6,356.2 1302.5,358.6 1303.4,358.5 1304.2,353.4 1305.0,350.4 1305.8,347.4 1306.6,348.4 1307.4,345.8 1308.5,353.9 1309.3,351.9 1310.1,347.7 1310.8,344.6 1311.6,349.8 1312.4,352.5 1313.1,356.2 1314.1,354.7 1315.0,355.0 1315.8,345.6 1316.6,338.8 1317.4,331.7 1318.2,328.4 1319.0,329.8 1319.8,331.5 1320.5,330.7 1321.5,336.4 1322.4,338.8 1323.2,341.8 1323.9,345.7 1324.7,348.1 1325.5,353.9 1326.3,356.2 1327.1,356.3 1327.8,354.3 1328.6,352.4 1329.3,351.6 1330.1,351.3 1330.9,349.5 1331.7,350.4 1332.4,348.8 1333.2,350.4 1334.0,349.2 1334.8,347.7 1335.5,342.5 1336.3,338.8 1337.1,333.8 1337.8,329.0 1338.6,324.9 1339.5,320.1 1340.5,315.7 1341.2,313.8 1342.0,309.3 1342.8,306.4 1343.8,307.1 1344.9,304.1 1345.8,298.1 1346.7,294.8 1347.5,290.6 1348.3,288.0 1349.0,284.4 1349.8,282.1 1350.6,282.0 1351.3,278.6 1352.1,275.3 1352.9,271.1 1353.7,264.7 1354.5,260.6 1355.3,255.5 1356.7,253.2 1357.5,255.9 1358.3,262.4 1359.1,269.7 1359.9,276.3 1361.3,296.0 1362.1,288.1 1362.9,279.8 1363.7,278.6 1364.5,276.6 1365.2,276.3 1366.0,276.0 1366.8,275.6 1367.6,272.8 1368.3,276.6 1369.1,284.3 1369.9,289.0 1370.8,283.9 1371.7,279.8 1372.5,276.4 1373.3,274.4 1374.0,269.4 1374.8,276.6 1375.6,280.7 1376.4,285.6 1377.2,292.5 1378.0,301.8 1378.7,304.6 1379.5,302.8 1380.3,305.3 1381.1,301.3 1381.8,299.6 1382.6,294.8 1383.4,293.2 1384.1,292.2 1384.9,294.0 1385.6,291.4 1386.7,296.0 1387.7,297.1 1388.6,299.9 1389.6,304.1 1390.4,300.2 1391.2,297.1 1391.9,299.4 1392.7,301.8 1393.5,306.4 1394.2,306.7 1395.0,310.9 1395.7,308.5 1396.5,311.5 1397.3,307.2 1398.0,303.8 1398.8,301.8 1399.6,289.7 1400.4,280.9 1401.8,267.0 1402.7,265.2 1403.7,264.2 1404.6,261.3 1405.4,263.8 1406.1,264.1 1406.9,264.7 1407.8,265.4 1408.7,261.6 1409.5,262.1 1410.4,262.4 1411.2,266.2 1411.9,264.6 1412.7,268.2 1413.5,270.4 1414.2,274.3 1415.0,277.5 1415.8,275.4 1416.6,275.3 1417.3,274.0 1418.1,273.3 1418.9,275.3 1419.7,277.5 1420.5,281.0 1421.4,279.5 1422.3,284.3 1423.1,284.4 1423.9,282.4 1424.7,284.8 1425.4,282.1 1426.4,283.6 1427.3,284.2 1428.2,284.4 1429.1,291.7 1430.1,301.8 1430.9,303.5 1431.7,308.7 1432.6,305.1 1433.5,299.5 1434.3,292.0 1435.1,285.9 1435.9,280.9 1436.6,281.8 1437.4,281.7 1438.2,279.8 1439.1,276.8 1440.0,277.5 1440.8,283.4 1441.6,285.6 1442.5,290.3 1443.3,294.8 1444.2,290.9 1445.1,287.9 1445.9,288.6 1446.7,292.5 1447.7,302.5 1448.6,313.4 1449.5,332.1 1450.4,346.9 1451.3,336.2 1452.1,327.3 1452.8,324.2 1453.6,322.7 1454.4,322.6 1455.2,323.4 1455.9,326.7 1456.7,329.6 1457.5,330.5 1458.2,326.3 1459.0,327.3 1459.8,322.9 1460.6,322.8 1461.3,318.0 1462.1,326.2 1462.9,332.3 1463.6,336.5 1464.4,335.1 1465.2,335.2 1466.0,335.4 1466.7,339.1 1467.5,339.2 1468.3,341.1 1469.1,348.9 1469.9,355.0 1470.7,350.4 1471.4,345.4 1472.2,343.5 1473.1,341.7 1474.1,341.1 1474.8,344.8 1475.6,347.7 1476.4,349.2 1477.2,344.9 1477.9,339.8 1478.7,335.4 1480.0,332.0 1480.9,329.4 1481.9,326.3 1482.8,323.9 1483.6,326.3 1484.3,329.8 1485.1,330.8 1486.0,337.2 1486.9,345.9 1487.8,345.7 1488.7,346.4 1489.6,345.5 1490.4,343.6 1491.2,340.0 1492.0,340.8 1492.7,336.6 1493.5,334.9 1494.3,329.1 1495.1,327.4 1495.8,324.7 1496.6,322.7 1497.3,320.4 1498.1,320.4 1498.8,325.4 1499.6,326.2 1500.4,329.7 1501.5,341.2 1502.5,337.7 1503.4,329.7 1504.3,326.2 1505.1,329.5 1505.9,336.6 1506.9,341.6 1507.8,343.6 1508.6,330.8 1509.4,315.8 1510.3,303.8 1511.3,288.0 1512.4,285.7 1513.2,293.9 1514.0,300.7 1515.0,297.4 1515.9,293.8 1516.7,298.3 1517.5,300.7 1518.9,288.0 1519.7,285.6 1520.4,286.6 1521.2,285.7 1522.0,278.5 1522.8,271.8 1523.6,269.2 1524.4,269.9 1525.2,268.3 1526.1,263.5 1527.0,260.2 1527.8,257.9 1528.6,255.6 1529.6,263.7 1530.5,272.9 1531.3,265.8 1532.1,260.2 1532.9,258.5 1533.6,258.3 1534.4,256.7 1535.2,268.5 1536.0,276.4 1537.0,284.5 1537.9,289.1 1538.8,286.5 1539.7,281.0 1540.5,285.3 1541.4,286.8 1542.1,285.6 1542.9,288.0 1543.7,285.7 1544.6,281.9 1545.5,279.9 1546.3,273.7 1547.1,270.6 1548.0,277.0 1548.8,283.4 1550.2,292.6 1551.2,295.9 1552.2,297.3 1553.0,291.2 1553.8,287.0 1554.6,281.0 1555.5,285.4 1556.4,291.5 1557.2,292.2 1558.0,289.0 1558.7,288.0 1559.5,289.1 1560.3,290.4 1561.0,291.5 1561.8,292.2 1562.6,291.9 1563.4,289.1 1564.5,301.9 1565.3,308.4 1566.1,314.6 1567.1,318.4 1568.0,322.7 1568.8,326.1 1569.6,328.5 1570.4,324.5 1571.2,323.6 1571.9,321.6 1572.7,322.7 1573.4,322.1 1574.2,318.9 1574.9,320.4 1575.7,321.4 1576.5,319.2 1577.3,319.2 1578.4,314.6 1579.6,329.7 1580.4,338.5 1581.2,343.6 1582.6,334.3 1583.7,358.6 1584.5,357.7 1585.3,356.7 1586.0,357.5 1586.9,366.9 1587.7,376.0 1588.8,385.2 1589.6,386.0 1590.4,383.4 1591.1,382.9 1592.1,378.6 1593.0,371.3 1594.0,370.5 1595.1,367.9 1596.0,366.7 1596.9,366.7 1597.7,370.5 1598.6,376.0 1599.5,380.6 1600.4,385.2 1601.6,380.6 1602.7,391.0 1603.6,391.2 1604.6,392.2 1605.7,408.4 1606.4,424.6 1607.8,403.8 1608.7,405.6 1609.7,408.4 1610.4,410.2 1611.2,412.2 1612.0,411.9 1612.8,411.8 1613.5,409.7 1614.3,410.7 1615.1,400.3 1615.9,392.2 1616.7,390.9 1617.5,391.1 1618.2,389.9 1619.0,388.1 1619.7,387.6 1620.5,388.3 1621.2,388.7 1622.2,387.8 1623.1,386.8 1624.0,388.7 1625.4,362.1 1626.6,334.3 1627.4,330.4 1628.2,326.2 1629.0,333.1 1629.8,336.6 1630.7,335.0 1631.7,333.1 1632.6,331.2 1633.5,327.4 1634.3,332.1 1635.1,334.3 1635.9,332.9 1636.7,330.5 1637.5,326.2 1638.2,328.3 1639.0,331.6 1639.8,333.1 1640.5,330.5 1641.3,332.3 1642.1,329.7 1643.2,341.2 1644.2,336.1 1645.1,332.0 1646.3,316.9 1647.1,323.2 1647.9,329.7 1648.6,332.8 1649.4,331.9 1650.2,334.3 1651.0,333.8 1651.7,337.1 1652.5,336.6 1653.3,346.3 1654.1,355.1 1655.1,346.0 1656.0,340.1 1656.7,337.8 1657.5,338.7 1658.3,338.9 1659.2,338.1 1660.1,341.2 1661.0,338.5 1661.8,333.1 1662.7,330.7 1663.6,330.8 1664.8,318.1 1665.9,307.7 1666.7,305.6 1667.6,305.4 1668.4,298.5 1669.2,292.6 1670.3,281.0 1671.3,274.7 1672.2,268.3 1673.0,267.7 1673.7,268.0 1674.5,267.1 1675.3,266.2 1676.0,263.8 1676.8,262.5 1677.7,264.4 1678.7,269.5 1679.5,278.3 1680.3,283.4 1681.2,278.3 1682.1,271.8 1683.0,263.2 1683.8,257.9 1684.7,249.5 1685.6,241.7 1686.4,235.7 1687.2,227.8 1688.4,237.0 1689.6,234.7 1690.7,253.3 1691.9,240.5 1693.0,225.0 1693.8,234.2 1694.6,239.4 1695.6,235.3 1696.5,234.7 1697.3,236.2 1698.1,241.7 1699.0,241.0 1700.0,240.5 1700.7,241.4 1701.5,244.4 1702.3,244.0 1703.1,244.5 1703.8,241.8 1704.6,241.7 1705.5,235.0 1706.5,228.9 1707.3,232.2 1708.1,234.7 1709.0,235.7 1709.9,233.6 1710.7,234.7 1711.5,238.2 1712.4,241.2 1713.2,245.2 1714.3,254.4 1715.3,260.7" fill="none" stroke="#000" stroke-width="3.5" stroke-linejoin="round" stroke-linecap="round"/>
<line x1="201.8" x2="201.8" y1="219" y2="879" stroke="#b3b8cc" stroke-width="1.6"/>
<line x1="1718.6" x2="1718.6" y1="219" y2="879" stroke="#a6a6a6" stroke-width="1.8"/>
<circle cx="62.5" cy="130.5" r="4.2" fill="#6f80e0"/>
<circle cx="510.5" cy="130.5" r="4.2" fill="#000"/>
<text transform="scale(1.0,1)" x="1636.1 1665.8 1678.2 1708.6 1733.1 1757.2 1787.4 1816.5 1843.9" y="1038.8" font-family="'Liberation Sans',sans-serif" font-size="49" fill="#161616" stroke="#161616" stroke-width="0.9">glassnode</text>
<text y="78.5" font-family="'Liberation Sans',sans-serif" font-size="36" fill="#141414"><tspan x="47.5" letter-spacing="-0.5">ETH:</tspan> <tspan x="140" letter-spacing="0.67">Futures</tspan> <tspan x="277.3" letter-spacing="1.8">Long</tspan> <tspan x="373.3" letter-spacing="1.05">Liquidations</tspan> <tspan x="589" letter-spacing="1.15">(Total)</tspan></text>
</svg>
<div class="t lg" style="left:72px;letter-spacing:-0.28px">ETH: Futures Long Liquidations (Total) - All Exchanges [USD]</div>
<div class="t lg" style="left:520px;letter-spacing:-0.7px">ETH: Price [USD]</div>
<div class="t yl" style="top:870.2px">0</div>
<div class="t yl" style="top:785.7px">50M</div>
<div class="t yl" style="top:701.1px">100M</div>
<div class="t yl" style="top:616.6px">150M</div>
<div class="t yl" style="top:532.0px">200M</div>
<div class="t yl" style="top:447.4px">250M</div>
<div class="t yl" style="top:362.9px">300M</div>
<div class="t yl" style="top:278.3px">350M</div>
<div class="t yr" style="top:210.4px">$5k</div>
<div class="t yr" style="top:296.4px">$3k</div>
<div class="t yr" style="top:364.9px">$2k</div>
<div class="t yr" style="top:481.4px">$1k</div>
<div class="t yr" style="top:541.4px">$700</div>
<div class="t yr" style="top:598.4px">$500</div>
<div class="t yr" style="top:684.4px">$300</div>
<div class="t yr" style="top:752.4px">$200</div>
<div class="t yr" style="top:869.4px">$100</div>
<div class="t xl" style="left:243.5px">Sep '19</div>
<div class="t xl" style="left:360.3px">Mar '20</div>
<div class="t xl" style="left:476.8px">Sep '20</div>
<div class="t xl" style="left:592.0px">Mar '21</div>
<div class="t xl" style="left:709.0px">Sep '21</div>
<div class="t xl" style="left:824.2px">Mar '22</div>
<div class="t xl" style="left:941.4px">Sep '22</div>
<div class="t xl" style="left:1056.8px">Mar '23</div>
<div class="t xl" style="left:1173.5px">Sep '23</div>
<div class="t xl" style="left:1290.0px">Mar '24</div>
<div class="t xl" style="left:1407.2px">Sep '24</div>
<div class="t xl" style="left:1522.5px">Mar '25</div>
<div class="t xl" style="left:1640.0px">Sep '25</div>
<div class="t foot">© 2025 Glassnode. All Rights Reserved.</div>
</body></html>
